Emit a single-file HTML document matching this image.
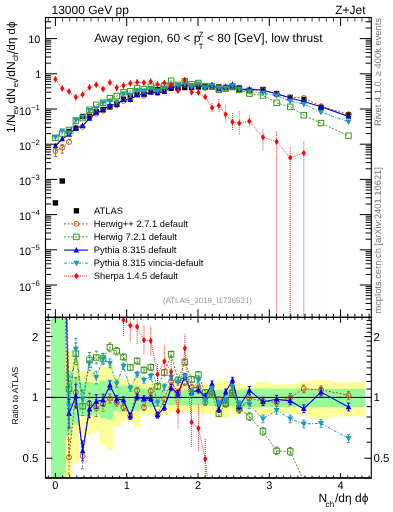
<!DOCTYPE html>
<html><head><meta charset="utf-8"><style>
html,body{margin:0;padding:0;background:#fff;width:393px;height:512px;overflow:hidden}
svg{display:block;will-change:transform}
text{font-family:"Liberation Sans",sans-serif;text-rendering:geometricPrecision}
</style></head><body>
<svg width="393" height="512" viewBox="0 0 393 512" shape-rendering="auto">
<defs><clipPath id="cu"><rect x="45.5" y="17.5" width="325.8" height="299.8"/></clipPath><clipPath id="cl"><rect x="45.5" y="317.3" width="325.8" height="160.3"/></clipPath></defs>
<g clip-path="url(#cl)">
<path d="M51.00,315.30 L58.80,315.30 L58.80,315.30 L65.61,315.30 L65.61,350.18 L72.42,350.18 L72.42,355.08 L79.23,355.08 L79.23,371.14 L86.04,371.14 L86.04,371.07 L92.85,371.07 L92.85,372.38 L99.66,372.38 L99.66,366.82 L106.47,366.82 L106.47,364.80 L113.28,364.80 L113.28,375.33 L120.09,375.33 L120.09,378.32 L126.91,378.32 L126.91,378.32 L133.72,378.32 L133.72,375.47 L140.53,375.47 L140.53,383.85 L147.33,383.85 L147.33,382.51 L154.14,382.51 L154.14,382.51 L160.95,382.51 L160.95,382.73 L167.76,382.73 L167.76,384.46 L174.57,384.46 L174.57,384.46 L181.38,384.46 L181.38,385.06 L188.19,385.06 L188.19,385.06 L195.00,385.06 L195.00,385.06 L201.81,385.06 L201.81,383.33 L208.62,383.33 L208.62,383.33 L215.44,383.33 L215.44,381.04 L222.25,381.04 L222.25,381.04 L229.06,381.04 L229.06,383.40 L235.86,383.40 L235.86,383.40 L242.60,383.40 L242.60,386.52 L256.20,386.52 L256.20,381.77 L269.80,381.77 L269.80,384.23 L283.40,384.23 L283.40,384.23 L297.00,384.23 L297.00,381.77 L310.60,381.77 L310.60,380.32 L331.70,380.32 L331.70,381.77 L365.30,381.77 L365.30,416.43 L331.70,416.43 L331.70,418.64 L310.60,418.64 L310.60,416.43 L297.00,416.43 L297.00,412.90 L283.40,412.90 L283.40,412.90 L269.80,412.90 L269.80,416.43 L256.20,416.43 L256.20,409.82 L242.60,409.82 L242.60,414.06 L235.86,414.06 L235.86,414.06 L229.06,414.06 L229.06,417.53 L222.25,417.53 L222.25,417.53 L215.44,417.53 L215.44,414.17 L208.62,414.17 L208.62,414.17 L201.81,414.17 L201.81,411.76 L195.00,411.76 L195.00,411.76 L188.19,411.76 L188.19,411.76 L181.38,411.76 L181.38,412.59 L174.57,412.59 L174.57,412.59 L167.76,412.59 L167.76,415.02 L160.95,415.02 L160.95,415.35 L154.14,415.35 L154.14,415.35 L147.33,415.35 L147.33,413.43 L140.53,413.43 L140.53,426.71 L133.72,426.71 L133.72,421.82 L126.91,421.82 L126.91,421.82 L120.09,421.82 L120.09,426.95 L113.28,426.95 L113.28,449.85 L106.47,449.85 L106.47,444.73 L99.66,444.73 L99.66,432.53 L92.85,432.53 L92.85,435.19 L86.04,435.19 L86.04,435.06 L79.23,435.06 L79.23,463.08 L72.42,463.08 L72.42,506.91 L65.61,506.91 L65.61,479.60 L58.80,479.60 L58.80,479.60 L51.00,479.60Z" fill="#ffff99"/>
<path d="M51.00,315.30 L58.80,315.30 L58.80,315.30 L65.61,315.30 L65.61,370.94 L72.42,370.94 L72.42,376.50 L79.23,376.50 L79.23,382.14 L86.04,382.14 L86.04,382.14 L92.85,382.14 L92.85,383.33 L99.66,383.33 L99.66,380.60 L106.47,380.60 L106.47,379.60 L113.28,379.60 L113.28,385.44 L120.09,385.44 L120.09,385.44 L126.91,385.44 L126.91,385.44 L133.72,385.44 L133.72,385.44 L140.53,385.44 L140.53,388.24 L147.33,388.24 L147.33,388.72 L154.14,388.72 L154.14,388.72 L160.95,388.72 L160.95,389.92 L167.76,389.92 L167.76,390.24 L174.57,390.24 L174.57,390.24 L181.38,390.24 L181.38,390.24 L188.19,390.24 L188.19,390.24 L195.00,390.24 L195.00,390.24 L201.81,390.24 L201.81,390.24 L208.62,390.24 L208.62,389.84 L215.44,389.84 L215.44,389.84 L222.25,389.84 L222.25,389.84 L229.06,389.84 L229.06,389.84 L235.86,389.84 L235.86,389.84 L242.60,389.84 L242.60,388.64 L256.20,388.64 L256.20,388.64 L269.80,388.64 L269.80,388.64 L283.40,388.64 L283.40,388.64 L297.00,388.64 L297.00,388.64 L310.60,388.64 L310.60,388.64 L331.70,388.64 L331.70,388.64 L365.30,388.64 L365.30,407.13 L331.70,407.13 L331.70,407.13 L310.60,407.13 L310.60,407.13 L297.00,407.13 L297.00,407.13 L283.40,407.13 L283.40,407.13 L269.80,407.13 L269.80,407.13 L256.20,407.13 L256.20,407.13 L242.60,407.13 L242.60,405.67 L235.86,405.67 L235.86,405.67 L229.06,405.67 L229.06,405.67 L222.25,405.67 L222.25,405.67 L215.44,405.67 L215.44,405.67 L208.62,405.67 L208.62,405.19 L201.81,405.19 L201.81,405.19 L195.00,405.19 L195.00,405.19 L188.19,405.19 L188.19,405.19 L181.38,405.19 L181.38,405.19 L174.57,405.19 L174.57,405.19 L167.76,405.19 L167.76,405.58 L160.95,405.58 L160.95,407.03 L154.14,407.03 L154.14,407.03 L147.33,407.03 L147.33,407.62 L140.53,407.62 L140.53,411.25 L133.72,411.25 L133.72,411.25 L126.91,411.25 L126.91,411.25 L120.09,411.25 L120.09,411.25 L113.28,411.25 L113.28,419.76 L106.47,419.76 L106.47,418.19 L99.66,418.19 L99.66,414.17 L92.85,414.17 L92.85,415.89 L86.04,415.89 L86.04,415.89 L79.23,415.89 L79.23,424.89 L72.42,424.89 L72.42,435.46 L65.61,435.46 L65.61,479.60 L58.80,479.60 L58.80,479.60 L51.00,479.60Z" fill="#98fb98"/>
<line x1="45.5" y1="397.4" x2="371.3" y2="397.4" stroke="#000" stroke-width="1"/>
<line x1="62.21" y1="206.30" x2="69.02" y2="457.20" stroke="#b05a10" stroke-width="1" stroke-dasharray="2,1.6"/>
<line x1="62.21" y1="124.81" x2="69.02" y2="389.00" stroke="#3e9a1c" stroke-width="1" stroke-dasharray="2,1.6"/>
<line x1="62.21" y1="156.38" x2="69.02" y2="413.80" stroke="#0000f0" stroke-width="1.1"/>
<line x1="62.21" y1="109.32" x2="69.02" y2="405.80" stroke="#1a9abf" stroke-width="1" stroke-dasharray="3,1.5,1,1.5"/>
<line x1="116.69" y1="300" x2="123.50" y2="320.10" stroke="#ff0000" stroke-width="0.8" stroke-dasharray="1,1"/>
<line x1="205.22" y1="459.00" x2="212.03" y2="520" stroke="#ff0000" stroke-width="0.8" stroke-dasharray="1,1"/>
<line x1="290.20" y1="451.40" x2="303.80" y2="481" stroke="#3e9a1c" stroke-width="1" stroke-dasharray="2,1.6"/>
<polyline points="69.02,457.20 75.83,392.40 82.64,456.10 89.45,403.50 96.26,408.00 103.07,404.00 109.88,398.50 116.69,402.50 123.50,407.50 130.31,415.30 137.12,390.70 143.93,407.50 150.74,391.20 157.55,415.00 164.36,399.30 171.17,381.50 177.98,392.30 184.79,382.70 191.60,387.20 198.41,387.80 205.22,402.40 212.03,392.30 218.84,399.50 225.65,404.00 232.46,391.00 239.27,410.20 249.40,398.30 263.00,401.00 276.60,402.50 290.20,397.50 303.80,388.90 321.00,389.80 348.50,395.30" fill="none" stroke="#b05a10" stroke-width="1" stroke-dasharray="2,1.6"/>
<line x1="69.02" y1="439.65" x2="69.02" y2="474.75" stroke="#b05a10" stroke-width="0.9" stroke-dasharray="2,1.6"/>
<line x1="67.42" y1="439.65" x2="70.62" y2="439.65" stroke="#b05a10" stroke-width="0.9"/>
<line x1="67.42" y1="474.75" x2="70.62" y2="474.75" stroke="#b05a10" stroke-width="0.9"/>
<circle cx="69.02" cy="457.20" r="2.50" fill="none" stroke="#b05a10" stroke-width="1.0"/>
<line x1="75.83" y1="377.74" x2="75.83" y2="407.06" stroke="#b05a10" stroke-width="0.9" stroke-dasharray="2,1.6"/>
<line x1="74.23" y1="377.74" x2="77.43" y2="377.74" stroke="#b05a10" stroke-width="0.9"/>
<line x1="74.23" y1="407.06" x2="77.43" y2="407.06" stroke="#b05a10" stroke-width="0.9"/>
<circle cx="75.83" cy="392.40" r="2.50" fill="none" stroke="#b05a10" stroke-width="1.0"/>
<line x1="82.64" y1="443.86" x2="82.64" y2="468.34" stroke="#b05a10" stroke-width="0.9" stroke-dasharray="2,1.6"/>
<line x1="81.04" y1="443.86" x2="84.24" y2="443.86" stroke="#b05a10" stroke-width="0.9"/>
<line x1="81.04" y1="468.34" x2="84.24" y2="468.34" stroke="#b05a10" stroke-width="0.9"/>
<circle cx="82.64" cy="456.10" r="2.50" fill="none" stroke="#b05a10" stroke-width="1.0"/>
<line x1="89.45" y1="393.27" x2="89.45" y2="413.73" stroke="#b05a10" stroke-width="0.9" stroke-dasharray="2,1.6"/>
<line x1="87.85" y1="393.27" x2="91.05" y2="393.27" stroke="#b05a10" stroke-width="0.9"/>
<line x1="87.85" y1="413.73" x2="91.05" y2="413.73" stroke="#b05a10" stroke-width="0.9"/>
<circle cx="89.45" cy="403.50" r="2.50" fill="none" stroke="#b05a10" stroke-width="1.0"/>
<line x1="96.26" y1="399.46" x2="96.26" y2="416.54" stroke="#b05a10" stroke-width="0.9" stroke-dasharray="2,1.6"/>
<line x1="94.66" y1="399.46" x2="97.86" y2="399.46" stroke="#b05a10" stroke-width="0.9"/>
<line x1="94.66" y1="416.54" x2="97.86" y2="416.54" stroke="#b05a10" stroke-width="0.9"/>
<circle cx="96.26" cy="408.00" r="2.50" fill="none" stroke="#b05a10" stroke-width="1.0"/>
<line x1="103.07" y1="396.86" x2="103.07" y2="411.14" stroke="#b05a10" stroke-width="0.9" stroke-dasharray="2,1.6"/>
<line x1="101.47" y1="396.86" x2="104.67" y2="396.86" stroke="#b05a10" stroke-width="0.9"/>
<line x1="101.47" y1="411.14" x2="104.67" y2="411.14" stroke="#b05a10" stroke-width="0.9"/>
<circle cx="103.07" cy="404.00" r="2.50" fill="none" stroke="#b05a10" stroke-width="1.0"/>
<line x1="109.88" y1="394.09" x2="109.88" y2="402.91" stroke="#b05a10" stroke-width="0.9" stroke-dasharray="2,1.6"/>
<line x1="108.28" y1="394.09" x2="111.48" y2="394.09" stroke="#b05a10" stroke-width="0.9"/>
<line x1="108.28" y1="402.91" x2="111.48" y2="402.91" stroke="#b05a10" stroke-width="0.9"/>
<circle cx="109.88" cy="398.50" r="2.50" fill="none" stroke="#b05a10" stroke-width="1.0"/>
<line x1="116.69" y1="398.81" x2="116.69" y2="406.19" stroke="#b05a10" stroke-width="0.9" stroke-dasharray="2,1.6"/>
<line x1="115.09" y1="398.81" x2="118.29" y2="398.81" stroke="#b05a10" stroke-width="0.9"/>
<line x1="115.09" y1="406.19" x2="118.29" y2="406.19" stroke="#b05a10" stroke-width="0.9"/>
<circle cx="116.69" cy="402.50" r="2.50" fill="none" stroke="#b05a10" stroke-width="1.0"/>
<line x1="123.50" y1="404.42" x2="123.50" y2="410.58" stroke="#b05a10" stroke-width="0.9" stroke-dasharray="2,1.6"/>
<line x1="121.90" y1="404.42" x2="125.10" y2="404.42" stroke="#b05a10" stroke-width="0.9"/>
<line x1="121.90" y1="410.58" x2="125.10" y2="410.58" stroke="#b05a10" stroke-width="0.9"/>
<circle cx="123.50" cy="407.50" r="2.50" fill="none" stroke="#b05a10" stroke-width="1.0"/>
<line x1="130.31" y1="412.30" x2="130.31" y2="418.30" stroke="#b05a10" stroke-width="0.9" stroke-dasharray="2,1.6"/>
<line x1="128.71" y1="412.30" x2="131.91" y2="412.30" stroke="#b05a10" stroke-width="0.9"/>
<line x1="128.71" y1="418.30" x2="131.91" y2="418.30" stroke="#b05a10" stroke-width="0.9"/>
<circle cx="130.31" cy="415.30" r="2.50" fill="none" stroke="#b05a10" stroke-width="1.0"/>
<line x1="137.12" y1="387.70" x2="137.12" y2="393.70" stroke="#b05a10" stroke-width="0.9" stroke-dasharray="2,1.6"/>
<line x1="135.52" y1="387.70" x2="138.72" y2="387.70" stroke="#b05a10" stroke-width="0.9"/>
<line x1="135.52" y1="393.70" x2="138.72" y2="393.70" stroke="#b05a10" stroke-width="0.9"/>
<circle cx="137.12" cy="390.70" r="2.50" fill="none" stroke="#b05a10" stroke-width="1.0"/>
<line x1="143.93" y1="404.50" x2="143.93" y2="410.50" stroke="#b05a10" stroke-width="0.9" stroke-dasharray="2,1.6"/>
<line x1="142.33" y1="404.50" x2="145.53" y2="404.50" stroke="#b05a10" stroke-width="0.9"/>
<line x1="142.33" y1="410.50" x2="145.53" y2="410.50" stroke="#b05a10" stroke-width="0.9"/>
<circle cx="143.93" cy="407.50" r="2.50" fill="none" stroke="#b05a10" stroke-width="1.0"/>
<line x1="150.74" y1="388.20" x2="150.74" y2="394.20" stroke="#b05a10" stroke-width="0.9" stroke-dasharray="2,1.6"/>
<line x1="149.14" y1="388.20" x2="152.34" y2="388.20" stroke="#b05a10" stroke-width="0.9"/>
<line x1="149.14" y1="394.20" x2="152.34" y2="394.20" stroke="#b05a10" stroke-width="0.9"/>
<circle cx="150.74" cy="391.20" r="2.50" fill="none" stroke="#b05a10" stroke-width="1.0"/>
<line x1="157.55" y1="412.00" x2="157.55" y2="418.00" stroke="#b05a10" stroke-width="0.9" stroke-dasharray="2,1.6"/>
<line x1="155.95" y1="412.00" x2="159.15" y2="412.00" stroke="#b05a10" stroke-width="0.9"/>
<line x1="155.95" y1="418.00" x2="159.15" y2="418.00" stroke="#b05a10" stroke-width="0.9"/>
<circle cx="157.55" cy="415.00" r="2.50" fill="none" stroke="#b05a10" stroke-width="1.0"/>
<line x1="164.36" y1="396.30" x2="164.36" y2="402.30" stroke="#b05a10" stroke-width="0.9" stroke-dasharray="2,1.6"/>
<line x1="162.76" y1="396.30" x2="165.96" y2="396.30" stroke="#b05a10" stroke-width="0.9"/>
<line x1="162.76" y1="402.30" x2="165.96" y2="402.30" stroke="#b05a10" stroke-width="0.9"/>
<circle cx="164.36" cy="399.30" r="2.50" fill="none" stroke="#b05a10" stroke-width="1.0"/>
<line x1="171.17" y1="378.50" x2="171.17" y2="384.50" stroke="#b05a10" stroke-width="0.9" stroke-dasharray="2,1.6"/>
<line x1="169.57" y1="378.50" x2="172.77" y2="378.50" stroke="#b05a10" stroke-width="0.9"/>
<line x1="169.57" y1="384.50" x2="172.77" y2="384.50" stroke="#b05a10" stroke-width="0.9"/>
<circle cx="171.17" cy="381.50" r="2.50" fill="none" stroke="#b05a10" stroke-width="1.0"/>
<line x1="177.98" y1="389.30" x2="177.98" y2="395.30" stroke="#b05a10" stroke-width="0.9" stroke-dasharray="2,1.6"/>
<line x1="176.38" y1="389.30" x2="179.58" y2="389.30" stroke="#b05a10" stroke-width="0.9"/>
<line x1="176.38" y1="395.30" x2="179.58" y2="395.30" stroke="#b05a10" stroke-width="0.9"/>
<circle cx="177.98" cy="392.30" r="2.50" fill="none" stroke="#b05a10" stroke-width="1.0"/>
<line x1="184.79" y1="379.70" x2="184.79" y2="385.70" stroke="#b05a10" stroke-width="0.9" stroke-dasharray="2,1.6"/>
<line x1="183.19" y1="379.70" x2="186.39" y2="379.70" stroke="#b05a10" stroke-width="0.9"/>
<line x1="183.19" y1="385.70" x2="186.39" y2="385.70" stroke="#b05a10" stroke-width="0.9"/>
<circle cx="184.79" cy="382.70" r="2.50" fill="none" stroke="#b05a10" stroke-width="1.0"/>
<line x1="191.60" y1="384.20" x2="191.60" y2="390.20" stroke="#b05a10" stroke-width="0.9" stroke-dasharray="2,1.6"/>
<line x1="190.00" y1="384.20" x2="193.20" y2="384.20" stroke="#b05a10" stroke-width="0.9"/>
<line x1="190.00" y1="390.20" x2="193.20" y2="390.20" stroke="#b05a10" stroke-width="0.9"/>
<circle cx="191.60" cy="387.20" r="2.50" fill="none" stroke="#b05a10" stroke-width="1.0"/>
<line x1="198.41" y1="384.80" x2="198.41" y2="390.80" stroke="#b05a10" stroke-width="0.9" stroke-dasharray="2,1.6"/>
<line x1="196.81" y1="384.80" x2="200.01" y2="384.80" stroke="#b05a10" stroke-width="0.9"/>
<line x1="196.81" y1="390.80" x2="200.01" y2="390.80" stroke="#b05a10" stroke-width="0.9"/>
<circle cx="198.41" cy="387.80" r="2.50" fill="none" stroke="#b05a10" stroke-width="1.0"/>
<line x1="205.22" y1="399.40" x2="205.22" y2="405.40" stroke="#b05a10" stroke-width="0.9" stroke-dasharray="2,1.6"/>
<line x1="203.62" y1="399.40" x2="206.82" y2="399.40" stroke="#b05a10" stroke-width="0.9"/>
<line x1="203.62" y1="405.40" x2="206.82" y2="405.40" stroke="#b05a10" stroke-width="0.9"/>
<circle cx="205.22" cy="402.40" r="2.50" fill="none" stroke="#b05a10" stroke-width="1.0"/>
<line x1="212.03" y1="389.30" x2="212.03" y2="395.30" stroke="#b05a10" stroke-width="0.9" stroke-dasharray="2,1.6"/>
<line x1="210.43" y1="389.30" x2="213.63" y2="389.30" stroke="#b05a10" stroke-width="0.9"/>
<line x1="210.43" y1="395.30" x2="213.63" y2="395.30" stroke="#b05a10" stroke-width="0.9"/>
<circle cx="212.03" cy="392.30" r="2.50" fill="none" stroke="#b05a10" stroke-width="1.0"/>
<line x1="218.84" y1="396.50" x2="218.84" y2="402.50" stroke="#b05a10" stroke-width="0.9" stroke-dasharray="2,1.6"/>
<line x1="217.24" y1="396.50" x2="220.44" y2="396.50" stroke="#b05a10" stroke-width="0.9"/>
<line x1="217.24" y1="402.50" x2="220.44" y2="402.50" stroke="#b05a10" stroke-width="0.9"/>
<circle cx="218.84" cy="399.50" r="2.50" fill="none" stroke="#b05a10" stroke-width="1.0"/>
<line x1="225.65" y1="401.00" x2="225.65" y2="407.00" stroke="#b05a10" stroke-width="0.9" stroke-dasharray="2,1.6"/>
<line x1="224.05" y1="401.00" x2="227.25" y2="401.00" stroke="#b05a10" stroke-width="0.9"/>
<line x1="224.05" y1="407.00" x2="227.25" y2="407.00" stroke="#b05a10" stroke-width="0.9"/>
<circle cx="225.65" cy="404.00" r="2.50" fill="none" stroke="#b05a10" stroke-width="1.0"/>
<line x1="232.46" y1="388.00" x2="232.46" y2="394.00" stroke="#b05a10" stroke-width="0.9" stroke-dasharray="2,1.6"/>
<line x1="230.86" y1="388.00" x2="234.06" y2="388.00" stroke="#b05a10" stroke-width="0.9"/>
<line x1="230.86" y1="394.00" x2="234.06" y2="394.00" stroke="#b05a10" stroke-width="0.9"/>
<circle cx="232.46" cy="391.00" r="2.50" fill="none" stroke="#b05a10" stroke-width="1.0"/>
<line x1="239.27" y1="407.20" x2="239.27" y2="413.20" stroke="#b05a10" stroke-width="0.9" stroke-dasharray="2,1.6"/>
<line x1="237.67" y1="407.20" x2="240.87" y2="407.20" stroke="#b05a10" stroke-width="0.9"/>
<line x1="237.67" y1="413.20" x2="240.87" y2="413.20" stroke="#b05a10" stroke-width="0.9"/>
<circle cx="239.27" cy="410.20" r="2.50" fill="none" stroke="#b05a10" stroke-width="1.0"/>
<line x1="249.40" y1="394.40" x2="249.40" y2="402.20" stroke="#b05a10" stroke-width="0.9" stroke-dasharray="2,1.6"/>
<line x1="247.80" y1="394.40" x2="251.00" y2="394.40" stroke="#b05a10" stroke-width="0.9"/>
<line x1="247.80" y1="402.20" x2="251.00" y2="402.20" stroke="#b05a10" stroke-width="0.9"/>
<circle cx="249.40" cy="398.30" r="2.50" fill="none" stroke="#b05a10" stroke-width="1.0"/>
<line x1="263.00" y1="397.10" x2="263.00" y2="404.90" stroke="#b05a10" stroke-width="0.9" stroke-dasharray="2,1.6"/>
<line x1="261.40" y1="397.10" x2="264.60" y2="397.10" stroke="#b05a10" stroke-width="0.9"/>
<line x1="261.40" y1="404.90" x2="264.60" y2="404.90" stroke="#b05a10" stroke-width="0.9"/>
<circle cx="263.00" cy="401.00" r="2.50" fill="none" stroke="#b05a10" stroke-width="1.0"/>
<line x1="276.60" y1="398.60" x2="276.60" y2="406.40" stroke="#b05a10" stroke-width="0.9" stroke-dasharray="2,1.6"/>
<line x1="275.00" y1="398.60" x2="278.20" y2="398.60" stroke="#b05a10" stroke-width="0.9"/>
<line x1="275.00" y1="406.40" x2="278.20" y2="406.40" stroke="#b05a10" stroke-width="0.9"/>
<circle cx="276.60" cy="402.50" r="2.50" fill="none" stroke="#b05a10" stroke-width="1.0"/>
<line x1="290.20" y1="393.60" x2="290.20" y2="401.40" stroke="#b05a10" stroke-width="0.9" stroke-dasharray="2,1.6"/>
<line x1="288.60" y1="393.60" x2="291.80" y2="393.60" stroke="#b05a10" stroke-width="0.9"/>
<line x1="288.60" y1="401.40" x2="291.80" y2="401.40" stroke="#b05a10" stroke-width="0.9"/>
<circle cx="290.20" cy="397.50" r="2.50" fill="none" stroke="#b05a10" stroke-width="1.0"/>
<line x1="303.80" y1="385.00" x2="303.80" y2="392.80" stroke="#b05a10" stroke-width="0.9" stroke-dasharray="2,1.6"/>
<line x1="302.20" y1="385.00" x2="305.40" y2="385.00" stroke="#b05a10" stroke-width="0.9"/>
<line x1="302.20" y1="392.80" x2="305.40" y2="392.80" stroke="#b05a10" stroke-width="0.9"/>
<circle cx="303.80" cy="388.90" r="2.50" fill="none" stroke="#b05a10" stroke-width="1.0"/>
<line x1="321.00" y1="385.90" x2="321.00" y2="393.70" stroke="#b05a10" stroke-width="0.9" stroke-dasharray="2,1.6"/>
<line x1="319.40" y1="385.90" x2="322.60" y2="385.90" stroke="#b05a10" stroke-width="0.9"/>
<line x1="319.40" y1="393.70" x2="322.60" y2="393.70" stroke="#b05a10" stroke-width="0.9"/>
<circle cx="321.00" cy="389.80" r="2.50" fill="none" stroke="#b05a10" stroke-width="1.0"/>
<line x1="348.50" y1="391.40" x2="348.50" y2="399.20" stroke="#b05a10" stroke-width="0.9" stroke-dasharray="2,1.6"/>
<line x1="346.90" y1="391.40" x2="350.10" y2="391.40" stroke="#b05a10" stroke-width="0.9"/>
<line x1="346.90" y1="399.20" x2="350.10" y2="399.20" stroke="#b05a10" stroke-width="0.9"/>
<circle cx="348.50" cy="395.30" r="2.50" fill="none" stroke="#b05a10" stroke-width="1.0"/>
<polyline points="69.02,389.00 75.83,353.70 82.64,406.30 89.45,360.00 96.26,357.50 103.07,358.50 109.88,347.30 116.69,351.20 123.50,357.00 130.31,367.50 137.12,361.00 143.93,370.10 150.74,367.20 157.55,386.30 164.36,372.50 171.17,354.20 177.98,380.00 184.79,362.00 191.60,379.30 198.41,374.60 205.22,392.50 212.03,394.50 218.84,413.60 225.65,403.80 232.46,393.00 239.27,408.00 249.40,416.50 263.00,431.40 276.60,450.90 290.20,451.40" fill="none" stroke="#3e9a1c" stroke-width="1" stroke-dasharray="2,1.6"/>
<line x1="69.02" y1="376.00" x2="69.02" y2="402.00" stroke="#3e9a1c" stroke-width="0.9" stroke-dasharray="2,1.6"/>
<line x1="67.42" y1="376.00" x2="70.62" y2="376.00" stroke="#3e9a1c" stroke-width="0.9"/>
<line x1="67.42" y1="402.00" x2="70.62" y2="402.00" stroke="#3e9a1c" stroke-width="0.9"/>
<rect x="66.27" y="386.25" width="5.50" height="5.50" fill="none" stroke="#3e9a1c" stroke-width="1.0"/>
<line x1="75.83" y1="342.84" x2="75.83" y2="364.56" stroke="#3e9a1c" stroke-width="0.9" stroke-dasharray="2,1.6"/>
<line x1="74.23" y1="342.84" x2="77.43" y2="342.84" stroke="#3e9a1c" stroke-width="0.9"/>
<line x1="74.23" y1="364.56" x2="77.43" y2="364.56" stroke="#3e9a1c" stroke-width="0.9"/>
<rect x="73.08" y="350.95" width="5.50" height="5.50" fill="none" stroke="#3e9a1c" stroke-width="1.0"/>
<line x1="82.64" y1="397.23" x2="82.64" y2="415.37" stroke="#3e9a1c" stroke-width="0.9" stroke-dasharray="2,1.6"/>
<line x1="81.04" y1="397.23" x2="84.24" y2="397.23" stroke="#3e9a1c" stroke-width="0.9"/>
<line x1="81.04" y1="415.37" x2="84.24" y2="415.37" stroke="#3e9a1c" stroke-width="0.9"/>
<rect x="79.89" y="403.55" width="5.50" height="5.50" fill="none" stroke="#3e9a1c" stroke-width="1.0"/>
<line x1="89.45" y1="352.42" x2="89.45" y2="367.58" stroke="#3e9a1c" stroke-width="0.9" stroke-dasharray="2,1.6"/>
<line x1="87.85" y1="352.42" x2="91.05" y2="352.42" stroke="#3e9a1c" stroke-width="0.9"/>
<line x1="87.85" y1="367.58" x2="91.05" y2="367.58" stroke="#3e9a1c" stroke-width="0.9"/>
<rect x="86.70" y="357.25" width="5.50" height="5.50" fill="none" stroke="#3e9a1c" stroke-width="1.0"/>
<line x1="96.26" y1="351.17" x2="96.26" y2="363.83" stroke="#3e9a1c" stroke-width="0.9" stroke-dasharray="2,1.6"/>
<line x1="94.66" y1="351.17" x2="97.86" y2="351.17" stroke="#3e9a1c" stroke-width="0.9"/>
<line x1="94.66" y1="363.83" x2="97.86" y2="363.83" stroke="#3e9a1c" stroke-width="0.9"/>
<rect x="93.51" y="354.75" width="5.50" height="5.50" fill="none" stroke="#3e9a1c" stroke-width="1.0"/>
<line x1="103.07" y1="353.21" x2="103.07" y2="363.79" stroke="#3e9a1c" stroke-width="0.9" stroke-dasharray="2,1.6"/>
<line x1="101.47" y1="353.21" x2="104.67" y2="353.21" stroke="#3e9a1c" stroke-width="0.9"/>
<line x1="101.47" y1="363.79" x2="104.67" y2="363.79" stroke="#3e9a1c" stroke-width="0.9"/>
<rect x="100.32" y="355.75" width="5.50" height="5.50" fill="none" stroke="#3e9a1c" stroke-width="1.0"/>
<line x1="109.88" y1="342.89" x2="109.88" y2="351.71" stroke="#3e9a1c" stroke-width="0.9" stroke-dasharray="2,1.6"/>
<line x1="108.28" y1="342.89" x2="111.48" y2="342.89" stroke="#3e9a1c" stroke-width="0.9"/>
<line x1="108.28" y1="351.71" x2="111.48" y2="351.71" stroke="#3e9a1c" stroke-width="0.9"/>
<rect x="107.13" y="344.55" width="5.50" height="5.50" fill="none" stroke="#3e9a1c" stroke-width="1.0"/>
<line x1="116.69" y1="347.51" x2="116.69" y2="354.89" stroke="#3e9a1c" stroke-width="0.9" stroke-dasharray="2,1.6"/>
<line x1="115.09" y1="347.51" x2="118.29" y2="347.51" stroke="#3e9a1c" stroke-width="0.9"/>
<line x1="115.09" y1="354.89" x2="118.29" y2="354.89" stroke="#3e9a1c" stroke-width="0.9"/>
<rect x="113.94" y="348.45" width="5.50" height="5.50" fill="none" stroke="#3e9a1c" stroke-width="1.0"/>
<line x1="123.50" y1="353.92" x2="123.50" y2="360.08" stroke="#3e9a1c" stroke-width="0.9" stroke-dasharray="2,1.6"/>
<line x1="121.90" y1="353.92" x2="125.10" y2="353.92" stroke="#3e9a1c" stroke-width="0.9"/>
<line x1="121.90" y1="360.08" x2="125.10" y2="360.08" stroke="#3e9a1c" stroke-width="0.9"/>
<rect x="120.75" y="354.25" width="5.50" height="5.50" fill="none" stroke="#3e9a1c" stroke-width="1.0"/>
<line x1="130.31" y1="364.50" x2="130.31" y2="370.50" stroke="#3e9a1c" stroke-width="0.9" stroke-dasharray="2,1.6"/>
<line x1="128.71" y1="364.50" x2="131.91" y2="364.50" stroke="#3e9a1c" stroke-width="0.9"/>
<line x1="128.71" y1="370.50" x2="131.91" y2="370.50" stroke="#3e9a1c" stroke-width="0.9"/>
<rect x="127.56" y="364.75" width="5.50" height="5.50" fill="none" stroke="#3e9a1c" stroke-width="1.0"/>
<line x1="137.12" y1="358.00" x2="137.12" y2="364.00" stroke="#3e9a1c" stroke-width="0.9" stroke-dasharray="2,1.6"/>
<line x1="135.52" y1="358.00" x2="138.72" y2="358.00" stroke="#3e9a1c" stroke-width="0.9"/>
<line x1="135.52" y1="364.00" x2="138.72" y2="364.00" stroke="#3e9a1c" stroke-width="0.9"/>
<rect x="134.37" y="358.25" width="5.50" height="5.50" fill="none" stroke="#3e9a1c" stroke-width="1.0"/>
<line x1="143.93" y1="367.10" x2="143.93" y2="373.10" stroke="#3e9a1c" stroke-width="0.9" stroke-dasharray="2,1.6"/>
<line x1="142.33" y1="367.10" x2="145.53" y2="367.10" stroke="#3e9a1c" stroke-width="0.9"/>
<line x1="142.33" y1="373.10" x2="145.53" y2="373.10" stroke="#3e9a1c" stroke-width="0.9"/>
<rect x="141.18" y="367.35" width="5.50" height="5.50" fill="none" stroke="#3e9a1c" stroke-width="1.0"/>
<line x1="150.74" y1="364.20" x2="150.74" y2="370.20" stroke="#3e9a1c" stroke-width="0.9" stroke-dasharray="2,1.6"/>
<line x1="149.14" y1="364.20" x2="152.34" y2="364.20" stroke="#3e9a1c" stroke-width="0.9"/>
<line x1="149.14" y1="370.20" x2="152.34" y2="370.20" stroke="#3e9a1c" stroke-width="0.9"/>
<rect x="147.99" y="364.45" width="5.50" height="5.50" fill="none" stroke="#3e9a1c" stroke-width="1.0"/>
<line x1="157.55" y1="383.30" x2="157.55" y2="389.30" stroke="#3e9a1c" stroke-width="0.9" stroke-dasharray="2,1.6"/>
<line x1="155.95" y1="383.30" x2="159.15" y2="383.30" stroke="#3e9a1c" stroke-width="0.9"/>
<line x1="155.95" y1="389.30" x2="159.15" y2="389.30" stroke="#3e9a1c" stroke-width="0.9"/>
<rect x="154.80" y="383.55" width="5.50" height="5.50" fill="none" stroke="#3e9a1c" stroke-width="1.0"/>
<line x1="164.36" y1="369.50" x2="164.36" y2="375.50" stroke="#3e9a1c" stroke-width="0.9" stroke-dasharray="2,1.6"/>
<line x1="162.76" y1="369.50" x2="165.96" y2="369.50" stroke="#3e9a1c" stroke-width="0.9"/>
<line x1="162.76" y1="375.50" x2="165.96" y2="375.50" stroke="#3e9a1c" stroke-width="0.9"/>
<rect x="161.61" y="369.75" width="5.50" height="5.50" fill="none" stroke="#3e9a1c" stroke-width="1.0"/>
<line x1="171.17" y1="351.20" x2="171.17" y2="357.20" stroke="#3e9a1c" stroke-width="0.9" stroke-dasharray="2,1.6"/>
<line x1="169.57" y1="351.20" x2="172.77" y2="351.20" stroke="#3e9a1c" stroke-width="0.9"/>
<line x1="169.57" y1="357.20" x2="172.77" y2="357.20" stroke="#3e9a1c" stroke-width="0.9"/>
<rect x="168.42" y="351.45" width="5.50" height="5.50" fill="none" stroke="#3e9a1c" stroke-width="1.0"/>
<line x1="177.98" y1="377.00" x2="177.98" y2="383.00" stroke="#3e9a1c" stroke-width="0.9" stroke-dasharray="2,1.6"/>
<line x1="176.38" y1="377.00" x2="179.58" y2="377.00" stroke="#3e9a1c" stroke-width="0.9"/>
<line x1="176.38" y1="383.00" x2="179.58" y2="383.00" stroke="#3e9a1c" stroke-width="0.9"/>
<rect x="175.23" y="377.25" width="5.50" height="5.50" fill="none" stroke="#3e9a1c" stroke-width="1.0"/>
<line x1="184.79" y1="359.00" x2="184.79" y2="365.00" stroke="#3e9a1c" stroke-width="0.9" stroke-dasharray="2,1.6"/>
<line x1="183.19" y1="359.00" x2="186.39" y2="359.00" stroke="#3e9a1c" stroke-width="0.9"/>
<line x1="183.19" y1="365.00" x2="186.39" y2="365.00" stroke="#3e9a1c" stroke-width="0.9"/>
<rect x="182.04" y="359.25" width="5.50" height="5.50" fill="none" stroke="#3e9a1c" stroke-width="1.0"/>
<line x1="191.60" y1="376.30" x2="191.60" y2="382.30" stroke="#3e9a1c" stroke-width="0.9" stroke-dasharray="2,1.6"/>
<line x1="190.00" y1="376.30" x2="193.20" y2="376.30" stroke="#3e9a1c" stroke-width="0.9"/>
<line x1="190.00" y1="382.30" x2="193.20" y2="382.30" stroke="#3e9a1c" stroke-width="0.9"/>
<rect x="188.85" y="376.55" width="5.50" height="5.50" fill="none" stroke="#3e9a1c" stroke-width="1.0"/>
<line x1="198.41" y1="371.60" x2="198.41" y2="377.60" stroke="#3e9a1c" stroke-width="0.9" stroke-dasharray="2,1.6"/>
<line x1="196.81" y1="371.60" x2="200.01" y2="371.60" stroke="#3e9a1c" stroke-width="0.9"/>
<line x1="196.81" y1="377.60" x2="200.01" y2="377.60" stroke="#3e9a1c" stroke-width="0.9"/>
<rect x="195.66" y="371.85" width="5.50" height="5.50" fill="none" stroke="#3e9a1c" stroke-width="1.0"/>
<line x1="205.22" y1="389.50" x2="205.22" y2="395.50" stroke="#3e9a1c" stroke-width="0.9" stroke-dasharray="2,1.6"/>
<line x1="203.62" y1="389.50" x2="206.82" y2="389.50" stroke="#3e9a1c" stroke-width="0.9"/>
<line x1="203.62" y1="395.50" x2="206.82" y2="395.50" stroke="#3e9a1c" stroke-width="0.9"/>
<rect x="202.47" y="389.75" width="5.50" height="5.50" fill="none" stroke="#3e9a1c" stroke-width="1.0"/>
<line x1="212.03" y1="391.50" x2="212.03" y2="397.50" stroke="#3e9a1c" stroke-width="0.9" stroke-dasharray="2,1.6"/>
<line x1="210.43" y1="391.50" x2="213.63" y2="391.50" stroke="#3e9a1c" stroke-width="0.9"/>
<line x1="210.43" y1="397.50" x2="213.63" y2="397.50" stroke="#3e9a1c" stroke-width="0.9"/>
<rect x="209.28" y="391.75" width="5.50" height="5.50" fill="none" stroke="#3e9a1c" stroke-width="1.0"/>
<line x1="218.84" y1="410.60" x2="218.84" y2="416.60" stroke="#3e9a1c" stroke-width="0.9" stroke-dasharray="2,1.6"/>
<line x1="217.24" y1="410.60" x2="220.44" y2="410.60" stroke="#3e9a1c" stroke-width="0.9"/>
<line x1="217.24" y1="416.60" x2="220.44" y2="416.60" stroke="#3e9a1c" stroke-width="0.9"/>
<rect x="216.09" y="410.85" width="5.50" height="5.50" fill="none" stroke="#3e9a1c" stroke-width="1.0"/>
<line x1="225.65" y1="400.80" x2="225.65" y2="406.80" stroke="#3e9a1c" stroke-width="0.9" stroke-dasharray="2,1.6"/>
<line x1="224.05" y1="400.80" x2="227.25" y2="400.80" stroke="#3e9a1c" stroke-width="0.9"/>
<line x1="224.05" y1="406.80" x2="227.25" y2="406.80" stroke="#3e9a1c" stroke-width="0.9"/>
<rect x="222.90" y="401.05" width="5.50" height="5.50" fill="none" stroke="#3e9a1c" stroke-width="1.0"/>
<line x1="232.46" y1="390.00" x2="232.46" y2="396.00" stroke="#3e9a1c" stroke-width="0.9" stroke-dasharray="2,1.6"/>
<line x1="230.86" y1="390.00" x2="234.06" y2="390.00" stroke="#3e9a1c" stroke-width="0.9"/>
<line x1="230.86" y1="396.00" x2="234.06" y2="396.00" stroke="#3e9a1c" stroke-width="0.9"/>
<rect x="229.71" y="390.25" width="5.50" height="5.50" fill="none" stroke="#3e9a1c" stroke-width="1.0"/>
<line x1="239.27" y1="405.00" x2="239.27" y2="411.00" stroke="#3e9a1c" stroke-width="0.9" stroke-dasharray="2,1.6"/>
<line x1="237.67" y1="405.00" x2="240.87" y2="405.00" stroke="#3e9a1c" stroke-width="0.9"/>
<line x1="237.67" y1="411.00" x2="240.87" y2="411.00" stroke="#3e9a1c" stroke-width="0.9"/>
<rect x="236.52" y="405.25" width="5.50" height="5.50" fill="none" stroke="#3e9a1c" stroke-width="1.0"/>
<line x1="249.40" y1="412.60" x2="249.40" y2="420.40" stroke="#3e9a1c" stroke-width="0.9" stroke-dasharray="2,1.6"/>
<line x1="247.80" y1="412.60" x2="251.00" y2="412.60" stroke="#3e9a1c" stroke-width="0.9"/>
<line x1="247.80" y1="420.40" x2="251.00" y2="420.40" stroke="#3e9a1c" stroke-width="0.9"/>
<rect x="246.65" y="413.75" width="5.50" height="5.50" fill="none" stroke="#3e9a1c" stroke-width="1.0"/>
<line x1="263.00" y1="427.50" x2="263.00" y2="435.30" stroke="#3e9a1c" stroke-width="0.9" stroke-dasharray="2,1.6"/>
<line x1="261.40" y1="427.50" x2="264.60" y2="427.50" stroke="#3e9a1c" stroke-width="0.9"/>
<line x1="261.40" y1="435.30" x2="264.60" y2="435.30" stroke="#3e9a1c" stroke-width="0.9"/>
<rect x="260.25" y="428.65" width="5.50" height="5.50" fill="none" stroke="#3e9a1c" stroke-width="1.0"/>
<line x1="276.60" y1="447.00" x2="276.60" y2="454.80" stroke="#3e9a1c" stroke-width="0.9" stroke-dasharray="2,1.6"/>
<line x1="275.00" y1="447.00" x2="278.20" y2="447.00" stroke="#3e9a1c" stroke-width="0.9"/>
<line x1="275.00" y1="454.80" x2="278.20" y2="454.80" stroke="#3e9a1c" stroke-width="0.9"/>
<rect x="273.85" y="448.15" width="5.50" height="5.50" fill="none" stroke="#3e9a1c" stroke-width="1.0"/>
<line x1="290.20" y1="447.50" x2="290.20" y2="455.30" stroke="#3e9a1c" stroke-width="0.9" stroke-dasharray="2,1.6"/>
<line x1="288.60" y1="447.50" x2="291.80" y2="447.50" stroke="#3e9a1c" stroke-width="0.9"/>
<line x1="288.60" y1="455.30" x2="291.80" y2="455.30" stroke="#3e9a1c" stroke-width="0.9"/>
<rect x="287.45" y="448.65" width="5.50" height="5.50" fill="none" stroke="#3e9a1c" stroke-width="1.0"/>
<polyline points="69.02,413.80 75.83,396.10 82.64,450.90 89.45,409.30 96.26,401.60 103.07,400.00 109.88,385.30 116.69,399.10 123.50,400.00 130.31,416.30 137.12,397.00 143.93,398.80 150.74,398.60 157.55,415.00 164.36,407.40 171.17,387.80 177.98,393.50 184.79,376.50 191.60,392.30 198.41,390.00 205.22,396.70 212.03,384.00 218.84,409.40 225.65,392.00 232.46,380.30 239.27,406.70 249.40,390.40 263.00,401.70 276.60,399.30 290.20,400.90 303.80,408.70 321.00,392.10 348.50,407.00" fill="none" stroke="#0000f0" stroke-width="1.1"/>
<line x1="69.02" y1="399.50" x2="69.02" y2="428.10" stroke="#0000f0" stroke-width="0.9"/>
<line x1="67.42" y1="399.50" x2="70.62" y2="399.50" stroke="#0000f0" stroke-width="0.9"/>
<line x1="67.42" y1="428.10" x2="70.62" y2="428.10" stroke="#0000f0" stroke-width="0.9"/>
<path d="M69.02,410.60 L71.82,416.10 L66.22,416.10Z" fill="#0000f0"/>
<line x1="75.83" y1="384.16" x2="75.83" y2="408.04" stroke="#0000f0" stroke-width="0.9"/>
<line x1="74.23" y1="384.16" x2="77.43" y2="384.16" stroke="#0000f0" stroke-width="0.9"/>
<line x1="74.23" y1="408.04" x2="77.43" y2="408.04" stroke="#0000f0" stroke-width="0.9"/>
<path d="M75.83,392.90 L78.63,398.40 L73.03,398.40Z" fill="#0000f0"/>
<line x1="82.64" y1="440.92" x2="82.64" y2="460.88" stroke="#0000f0" stroke-width="0.9"/>
<line x1="81.04" y1="440.92" x2="84.24" y2="440.92" stroke="#0000f0" stroke-width="0.9"/>
<line x1="81.04" y1="460.88" x2="84.24" y2="460.88" stroke="#0000f0" stroke-width="0.9"/>
<path d="M82.64,447.70 L85.44,453.20 L79.84,453.20Z" fill="#0000f0"/>
<line x1="89.45" y1="400.97" x2="89.45" y2="417.63" stroke="#0000f0" stroke-width="0.9"/>
<line x1="87.85" y1="400.97" x2="91.05" y2="400.97" stroke="#0000f0" stroke-width="0.9"/>
<line x1="87.85" y1="417.63" x2="91.05" y2="417.63" stroke="#0000f0" stroke-width="0.9"/>
<path d="M89.45,406.10 L92.25,411.60 L86.65,411.60Z" fill="#0000f0"/>
<line x1="96.26" y1="394.64" x2="96.26" y2="408.56" stroke="#0000f0" stroke-width="0.9"/>
<line x1="94.66" y1="394.64" x2="97.86" y2="394.64" stroke="#0000f0" stroke-width="0.9"/>
<line x1="94.66" y1="408.56" x2="97.86" y2="408.56" stroke="#0000f0" stroke-width="0.9"/>
<path d="M96.26,398.40 L99.06,403.90 L93.46,403.90Z" fill="#0000f0"/>
<line x1="103.07" y1="394.19" x2="103.07" y2="405.81" stroke="#0000f0" stroke-width="0.9"/>
<line x1="101.47" y1="394.19" x2="104.67" y2="394.19" stroke="#0000f0" stroke-width="0.9"/>
<line x1="101.47" y1="405.81" x2="104.67" y2="405.81" stroke="#0000f0" stroke-width="0.9"/>
<path d="M103.07,396.80 L105.87,402.30 L100.27,402.30Z" fill="#0000f0"/>
<line x1="109.88" y1="380.89" x2="109.88" y2="389.71" stroke="#0000f0" stroke-width="0.9"/>
<line x1="108.28" y1="380.89" x2="111.48" y2="380.89" stroke="#0000f0" stroke-width="0.9"/>
<line x1="108.28" y1="389.71" x2="111.48" y2="389.71" stroke="#0000f0" stroke-width="0.9"/>
<path d="M109.88,382.10 L112.68,387.60 L107.08,387.60Z" fill="#0000f0"/>
<line x1="116.69" y1="395.41" x2="116.69" y2="402.79" stroke="#0000f0" stroke-width="0.9"/>
<line x1="115.09" y1="395.41" x2="118.29" y2="395.41" stroke="#0000f0" stroke-width="0.9"/>
<line x1="115.09" y1="402.79" x2="118.29" y2="402.79" stroke="#0000f0" stroke-width="0.9"/>
<path d="M116.69,395.90 L119.49,401.40 L113.89,401.40Z" fill="#0000f0"/>
<line x1="123.50" y1="396.92" x2="123.50" y2="403.08" stroke="#0000f0" stroke-width="0.9"/>
<line x1="121.90" y1="396.92" x2="125.10" y2="396.92" stroke="#0000f0" stroke-width="0.9"/>
<line x1="121.90" y1="403.08" x2="125.10" y2="403.08" stroke="#0000f0" stroke-width="0.9"/>
<path d="M123.50,396.80 L126.30,402.30 L120.70,402.30Z" fill="#0000f0"/>
<line x1="130.31" y1="413.30" x2="130.31" y2="419.30" stroke="#0000f0" stroke-width="0.9"/>
<line x1="128.71" y1="413.30" x2="131.91" y2="413.30" stroke="#0000f0" stroke-width="0.9"/>
<line x1="128.71" y1="419.30" x2="131.91" y2="419.30" stroke="#0000f0" stroke-width="0.9"/>
<path d="M130.31,413.10 L133.11,418.60 L127.51,418.60Z" fill="#0000f0"/>
<line x1="137.12" y1="394.00" x2="137.12" y2="400.00" stroke="#0000f0" stroke-width="0.9"/>
<line x1="135.52" y1="394.00" x2="138.72" y2="394.00" stroke="#0000f0" stroke-width="0.9"/>
<line x1="135.52" y1="400.00" x2="138.72" y2="400.00" stroke="#0000f0" stroke-width="0.9"/>
<path d="M137.12,393.80 L139.92,399.30 L134.32,399.30Z" fill="#0000f0"/>
<line x1="143.93" y1="395.80" x2="143.93" y2="401.80" stroke="#0000f0" stroke-width="0.9"/>
<line x1="142.33" y1="395.80" x2="145.53" y2="395.80" stroke="#0000f0" stroke-width="0.9"/>
<line x1="142.33" y1="401.80" x2="145.53" y2="401.80" stroke="#0000f0" stroke-width="0.9"/>
<path d="M143.93,395.60 L146.73,401.10 L141.13,401.10Z" fill="#0000f0"/>
<line x1="150.74" y1="395.60" x2="150.74" y2="401.60" stroke="#0000f0" stroke-width="0.9"/>
<line x1="149.14" y1="395.60" x2="152.34" y2="395.60" stroke="#0000f0" stroke-width="0.9"/>
<line x1="149.14" y1="401.60" x2="152.34" y2="401.60" stroke="#0000f0" stroke-width="0.9"/>
<path d="M150.74,395.40 L153.54,400.90 L147.94,400.90Z" fill="#0000f0"/>
<line x1="157.55" y1="412.00" x2="157.55" y2="418.00" stroke="#0000f0" stroke-width="0.9"/>
<line x1="155.95" y1="412.00" x2="159.15" y2="412.00" stroke="#0000f0" stroke-width="0.9"/>
<line x1="155.95" y1="418.00" x2="159.15" y2="418.00" stroke="#0000f0" stroke-width="0.9"/>
<path d="M157.55,411.80 L160.35,417.30 L154.75,417.30Z" fill="#0000f0"/>
<line x1="164.36" y1="404.40" x2="164.36" y2="410.40" stroke="#0000f0" stroke-width="0.9"/>
<line x1="162.76" y1="404.40" x2="165.96" y2="404.40" stroke="#0000f0" stroke-width="0.9"/>
<line x1="162.76" y1="410.40" x2="165.96" y2="410.40" stroke="#0000f0" stroke-width="0.9"/>
<path d="M164.36,404.20 L167.16,409.70 L161.56,409.70Z" fill="#0000f0"/>
<line x1="171.17" y1="384.80" x2="171.17" y2="390.80" stroke="#0000f0" stroke-width="0.9"/>
<line x1="169.57" y1="384.80" x2="172.77" y2="384.80" stroke="#0000f0" stroke-width="0.9"/>
<line x1="169.57" y1="390.80" x2="172.77" y2="390.80" stroke="#0000f0" stroke-width="0.9"/>
<path d="M171.17,384.60 L173.97,390.10 L168.37,390.10Z" fill="#0000f0"/>
<line x1="177.98" y1="390.50" x2="177.98" y2="396.50" stroke="#0000f0" stroke-width="0.9"/>
<line x1="176.38" y1="390.50" x2="179.58" y2="390.50" stroke="#0000f0" stroke-width="0.9"/>
<line x1="176.38" y1="396.50" x2="179.58" y2="396.50" stroke="#0000f0" stroke-width="0.9"/>
<path d="M177.98,390.30 L180.78,395.80 L175.18,395.80Z" fill="#0000f0"/>
<line x1="184.79" y1="373.50" x2="184.79" y2="379.50" stroke="#0000f0" stroke-width="0.9"/>
<line x1="183.19" y1="373.50" x2="186.39" y2="373.50" stroke="#0000f0" stroke-width="0.9"/>
<line x1="183.19" y1="379.50" x2="186.39" y2="379.50" stroke="#0000f0" stroke-width="0.9"/>
<path d="M184.79,373.30 L187.59,378.80 L181.99,378.80Z" fill="#0000f0"/>
<line x1="191.60" y1="389.30" x2="191.60" y2="395.30" stroke="#0000f0" stroke-width="0.9"/>
<line x1="190.00" y1="389.30" x2="193.20" y2="389.30" stroke="#0000f0" stroke-width="0.9"/>
<line x1="190.00" y1="395.30" x2="193.20" y2="395.30" stroke="#0000f0" stroke-width="0.9"/>
<path d="M191.60,389.10 L194.40,394.60 L188.80,394.60Z" fill="#0000f0"/>
<line x1="198.41" y1="387.00" x2="198.41" y2="393.00" stroke="#0000f0" stroke-width="0.9"/>
<line x1="196.81" y1="387.00" x2="200.01" y2="387.00" stroke="#0000f0" stroke-width="0.9"/>
<line x1="196.81" y1="393.00" x2="200.01" y2="393.00" stroke="#0000f0" stroke-width="0.9"/>
<path d="M198.41,386.80 L201.21,392.30 L195.61,392.30Z" fill="#0000f0"/>
<line x1="205.22" y1="393.70" x2="205.22" y2="399.70" stroke="#0000f0" stroke-width="0.9"/>
<line x1="203.62" y1="393.70" x2="206.82" y2="393.70" stroke="#0000f0" stroke-width="0.9"/>
<line x1="203.62" y1="399.70" x2="206.82" y2="399.70" stroke="#0000f0" stroke-width="0.9"/>
<path d="M205.22,393.50 L208.02,399.00 L202.42,399.00Z" fill="#0000f0"/>
<line x1="212.03" y1="381.00" x2="212.03" y2="387.00" stroke="#0000f0" stroke-width="0.9"/>
<line x1="210.43" y1="381.00" x2="213.63" y2="381.00" stroke="#0000f0" stroke-width="0.9"/>
<line x1="210.43" y1="387.00" x2="213.63" y2="387.00" stroke="#0000f0" stroke-width="0.9"/>
<path d="M212.03,380.80 L214.83,386.30 L209.23,386.30Z" fill="#0000f0"/>
<line x1="218.84" y1="406.40" x2="218.84" y2="412.40" stroke="#0000f0" stroke-width="0.9"/>
<line x1="217.24" y1="406.40" x2="220.44" y2="406.40" stroke="#0000f0" stroke-width="0.9"/>
<line x1="217.24" y1="412.40" x2="220.44" y2="412.40" stroke="#0000f0" stroke-width="0.9"/>
<path d="M218.84,406.20 L221.64,411.70 L216.04,411.70Z" fill="#0000f0"/>
<line x1="225.65" y1="389.00" x2="225.65" y2="395.00" stroke="#0000f0" stroke-width="0.9"/>
<line x1="224.05" y1="389.00" x2="227.25" y2="389.00" stroke="#0000f0" stroke-width="0.9"/>
<line x1="224.05" y1="395.00" x2="227.25" y2="395.00" stroke="#0000f0" stroke-width="0.9"/>
<path d="M225.65,388.80 L228.45,394.30 L222.85,394.30Z" fill="#0000f0"/>
<line x1="232.46" y1="377.30" x2="232.46" y2="383.30" stroke="#0000f0" stroke-width="0.9"/>
<line x1="230.86" y1="377.30" x2="234.06" y2="377.30" stroke="#0000f0" stroke-width="0.9"/>
<line x1="230.86" y1="383.30" x2="234.06" y2="383.30" stroke="#0000f0" stroke-width="0.9"/>
<path d="M232.46,377.10 L235.26,382.60 L229.66,382.60Z" fill="#0000f0"/>
<line x1="239.27" y1="403.70" x2="239.27" y2="409.70" stroke="#0000f0" stroke-width="0.9"/>
<line x1="237.67" y1="403.70" x2="240.87" y2="403.70" stroke="#0000f0" stroke-width="0.9"/>
<line x1="237.67" y1="409.70" x2="240.87" y2="409.70" stroke="#0000f0" stroke-width="0.9"/>
<path d="M239.27,403.50 L242.07,409.00 L236.47,409.00Z" fill="#0000f0"/>
<line x1="249.40" y1="386.50" x2="249.40" y2="394.30" stroke="#0000f0" stroke-width="0.9"/>
<line x1="247.80" y1="386.50" x2="251.00" y2="386.50" stroke="#0000f0" stroke-width="0.9"/>
<line x1="247.80" y1="394.30" x2="251.00" y2="394.30" stroke="#0000f0" stroke-width="0.9"/>
<path d="M249.40,387.20 L252.20,392.70 L246.60,392.70Z" fill="#0000f0"/>
<line x1="263.00" y1="397.80" x2="263.00" y2="405.60" stroke="#0000f0" stroke-width="0.9"/>
<line x1="261.40" y1="397.80" x2="264.60" y2="397.80" stroke="#0000f0" stroke-width="0.9"/>
<line x1="261.40" y1="405.60" x2="264.60" y2="405.60" stroke="#0000f0" stroke-width="0.9"/>
<path d="M263.00,398.50 L265.80,404.00 L260.20,404.00Z" fill="#0000f0"/>
<line x1="276.60" y1="395.40" x2="276.60" y2="403.20" stroke="#0000f0" stroke-width="0.9"/>
<line x1="275.00" y1="395.40" x2="278.20" y2="395.40" stroke="#0000f0" stroke-width="0.9"/>
<line x1="275.00" y1="403.20" x2="278.20" y2="403.20" stroke="#0000f0" stroke-width="0.9"/>
<path d="M276.60,396.10 L279.40,401.60 L273.80,401.60Z" fill="#0000f0"/>
<line x1="290.20" y1="397.00" x2="290.20" y2="404.80" stroke="#0000f0" stroke-width="0.9"/>
<line x1="288.60" y1="397.00" x2="291.80" y2="397.00" stroke="#0000f0" stroke-width="0.9"/>
<line x1="288.60" y1="404.80" x2="291.80" y2="404.80" stroke="#0000f0" stroke-width="0.9"/>
<path d="M290.20,397.70 L293.00,403.20 L287.40,403.20Z" fill="#0000f0"/>
<line x1="303.80" y1="404.80" x2="303.80" y2="412.60" stroke="#0000f0" stroke-width="0.9"/>
<line x1="302.20" y1="404.80" x2="305.40" y2="404.80" stroke="#0000f0" stroke-width="0.9"/>
<line x1="302.20" y1="412.60" x2="305.40" y2="412.60" stroke="#0000f0" stroke-width="0.9"/>
<path d="M303.80,405.50 L306.60,411.00 L301.00,411.00Z" fill="#0000f0"/>
<line x1="321.00" y1="388.20" x2="321.00" y2="396.00" stroke="#0000f0" stroke-width="0.9"/>
<line x1="319.40" y1="388.20" x2="322.60" y2="388.20" stroke="#0000f0" stroke-width="0.9"/>
<line x1="319.40" y1="396.00" x2="322.60" y2="396.00" stroke="#0000f0" stroke-width="0.9"/>
<path d="M321.00,388.90 L323.80,394.40 L318.20,394.40Z" fill="#0000f0"/>
<line x1="348.50" y1="403.10" x2="348.50" y2="410.90" stroke="#0000f0" stroke-width="0.9"/>
<line x1="346.90" y1="403.10" x2="350.10" y2="403.10" stroke="#0000f0" stroke-width="0.9"/>
<line x1="346.90" y1="410.90" x2="350.10" y2="410.90" stroke="#0000f0" stroke-width="0.9"/>
<path d="M348.50,403.80 L351.30,409.30 L345.70,409.30Z" fill="#0000f0"/>
<polyline points="69.02,405.80 75.83,349.20 82.64,399.10 89.45,363.00 96.26,377.50 103.07,359.00 109.88,363.30 116.69,383.60 123.50,366.30 130.31,388.30 137.12,374.30 143.93,380.30 150.74,376.30 157.55,402.80 164.36,387.00 171.17,377.50 177.98,382.30 184.79,376.20 191.60,392.30 198.41,380.20 205.22,401.00 212.03,389.00 218.84,403.10 225.65,400.50 232.46,387.50 239.27,403.80 249.40,404.50 263.00,418.90 276.60,410.30 290.20,418.90 303.80,423.90 321.00,423.40 348.50,438.50" fill="none" stroke="#1a9abf" stroke-width="1" stroke-dasharray="3,1.5,1,1.5"/>
<line x1="69.02" y1="392.80" x2="69.02" y2="418.80" stroke="#1a9abf" stroke-width="0.9" stroke-dasharray="3,1.5,1,1.5"/>
<line x1="67.42" y1="392.80" x2="70.62" y2="392.80" stroke="#1a9abf" stroke-width="0.9"/>
<line x1="67.42" y1="418.80" x2="70.62" y2="418.80" stroke="#1a9abf" stroke-width="0.9"/>
<path d="M69.02,409.10 L72.02,403.40 L66.02,403.40Z" fill="#1a9abf"/>
<line x1="75.83" y1="338.34" x2="75.83" y2="360.06" stroke="#1a9abf" stroke-width="0.9" stroke-dasharray="3,1.5,1,1.5"/>
<line x1="74.23" y1="338.34" x2="77.43" y2="338.34" stroke="#1a9abf" stroke-width="0.9"/>
<line x1="74.23" y1="360.06" x2="77.43" y2="360.06" stroke="#1a9abf" stroke-width="0.9"/>
<path d="M75.83,352.50 L78.83,346.80 L72.83,346.80Z" fill="#1a9abf"/>
<line x1="82.64" y1="390.03" x2="82.64" y2="408.17" stroke="#1a9abf" stroke-width="0.9" stroke-dasharray="3,1.5,1,1.5"/>
<line x1="81.04" y1="390.03" x2="84.24" y2="390.03" stroke="#1a9abf" stroke-width="0.9"/>
<line x1="81.04" y1="408.17" x2="84.24" y2="408.17" stroke="#1a9abf" stroke-width="0.9"/>
<path d="M82.64,402.40 L85.64,396.70 L79.64,396.70Z" fill="#1a9abf"/>
<line x1="89.45" y1="355.42" x2="89.45" y2="370.58" stroke="#1a9abf" stroke-width="0.9" stroke-dasharray="3,1.5,1,1.5"/>
<line x1="87.85" y1="355.42" x2="91.05" y2="355.42" stroke="#1a9abf" stroke-width="0.9"/>
<line x1="87.85" y1="370.58" x2="91.05" y2="370.58" stroke="#1a9abf" stroke-width="0.9"/>
<path d="M89.45,366.30 L92.45,360.60 L86.45,360.60Z" fill="#1a9abf"/>
<line x1="96.26" y1="371.17" x2="96.26" y2="383.83" stroke="#1a9abf" stroke-width="0.9" stroke-dasharray="3,1.5,1,1.5"/>
<line x1="94.66" y1="371.17" x2="97.86" y2="371.17" stroke="#1a9abf" stroke-width="0.9"/>
<line x1="94.66" y1="383.83" x2="97.86" y2="383.83" stroke="#1a9abf" stroke-width="0.9"/>
<path d="M96.26,380.80 L99.26,375.10 L93.26,375.10Z" fill="#1a9abf"/>
<line x1="103.07" y1="353.71" x2="103.07" y2="364.29" stroke="#1a9abf" stroke-width="0.9" stroke-dasharray="3,1.5,1,1.5"/>
<line x1="101.47" y1="353.71" x2="104.67" y2="353.71" stroke="#1a9abf" stroke-width="0.9"/>
<line x1="101.47" y1="364.29" x2="104.67" y2="364.29" stroke="#1a9abf" stroke-width="0.9"/>
<path d="M103.07,362.30 L106.07,356.60 L100.07,356.60Z" fill="#1a9abf"/>
<line x1="109.88" y1="358.89" x2="109.88" y2="367.71" stroke="#1a9abf" stroke-width="0.9" stroke-dasharray="3,1.5,1,1.5"/>
<line x1="108.28" y1="358.89" x2="111.48" y2="358.89" stroke="#1a9abf" stroke-width="0.9"/>
<line x1="108.28" y1="367.71" x2="111.48" y2="367.71" stroke="#1a9abf" stroke-width="0.9"/>
<path d="M109.88,366.60 L112.88,360.90 L106.88,360.90Z" fill="#1a9abf"/>
<line x1="116.69" y1="379.91" x2="116.69" y2="387.29" stroke="#1a9abf" stroke-width="0.9" stroke-dasharray="3,1.5,1,1.5"/>
<line x1="115.09" y1="379.91" x2="118.29" y2="379.91" stroke="#1a9abf" stroke-width="0.9"/>
<line x1="115.09" y1="387.29" x2="118.29" y2="387.29" stroke="#1a9abf" stroke-width="0.9"/>
<path d="M116.69,386.90 L119.69,381.20 L113.69,381.20Z" fill="#1a9abf"/>
<line x1="123.50" y1="363.22" x2="123.50" y2="369.38" stroke="#1a9abf" stroke-width="0.9" stroke-dasharray="3,1.5,1,1.5"/>
<line x1="121.90" y1="363.22" x2="125.10" y2="363.22" stroke="#1a9abf" stroke-width="0.9"/>
<line x1="121.90" y1="369.38" x2="125.10" y2="369.38" stroke="#1a9abf" stroke-width="0.9"/>
<path d="M123.50,369.60 L126.50,363.90 L120.50,363.90Z" fill="#1a9abf"/>
<line x1="130.31" y1="385.30" x2="130.31" y2="391.30" stroke="#1a9abf" stroke-width="0.9" stroke-dasharray="3,1.5,1,1.5"/>
<line x1="128.71" y1="385.30" x2="131.91" y2="385.30" stroke="#1a9abf" stroke-width="0.9"/>
<line x1="128.71" y1="391.30" x2="131.91" y2="391.30" stroke="#1a9abf" stroke-width="0.9"/>
<path d="M130.31,391.60 L133.31,385.90 L127.31,385.90Z" fill="#1a9abf"/>
<line x1="137.12" y1="371.30" x2="137.12" y2="377.30" stroke="#1a9abf" stroke-width="0.9" stroke-dasharray="3,1.5,1,1.5"/>
<line x1="135.52" y1="371.30" x2="138.72" y2="371.30" stroke="#1a9abf" stroke-width="0.9"/>
<line x1="135.52" y1="377.30" x2="138.72" y2="377.30" stroke="#1a9abf" stroke-width="0.9"/>
<path d="M137.12,377.60 L140.12,371.90 L134.12,371.90Z" fill="#1a9abf"/>
<line x1="143.93" y1="377.30" x2="143.93" y2="383.30" stroke="#1a9abf" stroke-width="0.9" stroke-dasharray="3,1.5,1,1.5"/>
<line x1="142.33" y1="377.30" x2="145.53" y2="377.30" stroke="#1a9abf" stroke-width="0.9"/>
<line x1="142.33" y1="383.30" x2="145.53" y2="383.30" stroke="#1a9abf" stroke-width="0.9"/>
<path d="M143.93,383.60 L146.93,377.90 L140.93,377.90Z" fill="#1a9abf"/>
<line x1="150.74" y1="373.30" x2="150.74" y2="379.30" stroke="#1a9abf" stroke-width="0.9" stroke-dasharray="3,1.5,1,1.5"/>
<line x1="149.14" y1="373.30" x2="152.34" y2="373.30" stroke="#1a9abf" stroke-width="0.9"/>
<line x1="149.14" y1="379.30" x2="152.34" y2="379.30" stroke="#1a9abf" stroke-width="0.9"/>
<path d="M150.74,379.60 L153.74,373.90 L147.74,373.90Z" fill="#1a9abf"/>
<line x1="157.55" y1="399.80" x2="157.55" y2="405.80" stroke="#1a9abf" stroke-width="0.9" stroke-dasharray="3,1.5,1,1.5"/>
<line x1="155.95" y1="399.80" x2="159.15" y2="399.80" stroke="#1a9abf" stroke-width="0.9"/>
<line x1="155.95" y1="405.80" x2="159.15" y2="405.80" stroke="#1a9abf" stroke-width="0.9"/>
<path d="M157.55,406.10 L160.55,400.40 L154.55,400.40Z" fill="#1a9abf"/>
<line x1="164.36" y1="384.00" x2="164.36" y2="390.00" stroke="#1a9abf" stroke-width="0.9" stroke-dasharray="3,1.5,1,1.5"/>
<line x1="162.76" y1="384.00" x2="165.96" y2="384.00" stroke="#1a9abf" stroke-width="0.9"/>
<line x1="162.76" y1="390.00" x2="165.96" y2="390.00" stroke="#1a9abf" stroke-width="0.9"/>
<path d="M164.36,390.30 L167.36,384.60 L161.36,384.60Z" fill="#1a9abf"/>
<line x1="171.17" y1="374.50" x2="171.17" y2="380.50" stroke="#1a9abf" stroke-width="0.9" stroke-dasharray="3,1.5,1,1.5"/>
<line x1="169.57" y1="374.50" x2="172.77" y2="374.50" stroke="#1a9abf" stroke-width="0.9"/>
<line x1="169.57" y1="380.50" x2="172.77" y2="380.50" stroke="#1a9abf" stroke-width="0.9"/>
<path d="M171.17,380.80 L174.17,375.10 L168.17,375.10Z" fill="#1a9abf"/>
<line x1="177.98" y1="379.30" x2="177.98" y2="385.30" stroke="#1a9abf" stroke-width="0.9" stroke-dasharray="3,1.5,1,1.5"/>
<line x1="176.38" y1="379.30" x2="179.58" y2="379.30" stroke="#1a9abf" stroke-width="0.9"/>
<line x1="176.38" y1="385.30" x2="179.58" y2="385.30" stroke="#1a9abf" stroke-width="0.9"/>
<path d="M177.98,385.60 L180.98,379.90 L174.98,379.90Z" fill="#1a9abf"/>
<line x1="184.79" y1="373.20" x2="184.79" y2="379.20" stroke="#1a9abf" stroke-width="0.9" stroke-dasharray="3,1.5,1,1.5"/>
<line x1="183.19" y1="373.20" x2="186.39" y2="373.20" stroke="#1a9abf" stroke-width="0.9"/>
<line x1="183.19" y1="379.20" x2="186.39" y2="379.20" stroke="#1a9abf" stroke-width="0.9"/>
<path d="M184.79,379.50 L187.79,373.80 L181.79,373.80Z" fill="#1a9abf"/>
<line x1="191.60" y1="389.30" x2="191.60" y2="395.30" stroke="#1a9abf" stroke-width="0.9" stroke-dasharray="3,1.5,1,1.5"/>
<line x1="190.00" y1="389.30" x2="193.20" y2="389.30" stroke="#1a9abf" stroke-width="0.9"/>
<line x1="190.00" y1="395.30" x2="193.20" y2="395.30" stroke="#1a9abf" stroke-width="0.9"/>
<path d="M191.60,395.60 L194.60,389.90 L188.60,389.90Z" fill="#1a9abf"/>
<line x1="198.41" y1="377.20" x2="198.41" y2="383.20" stroke="#1a9abf" stroke-width="0.9" stroke-dasharray="3,1.5,1,1.5"/>
<line x1="196.81" y1="377.20" x2="200.01" y2="377.20" stroke="#1a9abf" stroke-width="0.9"/>
<line x1="196.81" y1="383.20" x2="200.01" y2="383.20" stroke="#1a9abf" stroke-width="0.9"/>
<path d="M198.41,383.50 L201.41,377.80 L195.41,377.80Z" fill="#1a9abf"/>
<line x1="205.22" y1="398.00" x2="205.22" y2="404.00" stroke="#1a9abf" stroke-width="0.9" stroke-dasharray="3,1.5,1,1.5"/>
<line x1="203.62" y1="398.00" x2="206.82" y2="398.00" stroke="#1a9abf" stroke-width="0.9"/>
<line x1="203.62" y1="404.00" x2="206.82" y2="404.00" stroke="#1a9abf" stroke-width="0.9"/>
<path d="M205.22,404.30 L208.22,398.60 L202.22,398.60Z" fill="#1a9abf"/>
<line x1="212.03" y1="386.00" x2="212.03" y2="392.00" stroke="#1a9abf" stroke-width="0.9" stroke-dasharray="3,1.5,1,1.5"/>
<line x1="210.43" y1="386.00" x2="213.63" y2="386.00" stroke="#1a9abf" stroke-width="0.9"/>
<line x1="210.43" y1="392.00" x2="213.63" y2="392.00" stroke="#1a9abf" stroke-width="0.9"/>
<path d="M212.03,392.30 L215.03,386.60 L209.03,386.60Z" fill="#1a9abf"/>
<line x1="218.84" y1="400.10" x2="218.84" y2="406.10" stroke="#1a9abf" stroke-width="0.9" stroke-dasharray="3,1.5,1,1.5"/>
<line x1="217.24" y1="400.10" x2="220.44" y2="400.10" stroke="#1a9abf" stroke-width="0.9"/>
<line x1="217.24" y1="406.10" x2="220.44" y2="406.10" stroke="#1a9abf" stroke-width="0.9"/>
<path d="M218.84,406.40 L221.84,400.70 L215.84,400.70Z" fill="#1a9abf"/>
<line x1="225.65" y1="397.50" x2="225.65" y2="403.50" stroke="#1a9abf" stroke-width="0.9" stroke-dasharray="3,1.5,1,1.5"/>
<line x1="224.05" y1="397.50" x2="227.25" y2="397.50" stroke="#1a9abf" stroke-width="0.9"/>
<line x1="224.05" y1="403.50" x2="227.25" y2="403.50" stroke="#1a9abf" stroke-width="0.9"/>
<path d="M225.65,403.80 L228.65,398.10 L222.65,398.10Z" fill="#1a9abf"/>
<line x1="232.46" y1="384.50" x2="232.46" y2="390.50" stroke="#1a9abf" stroke-width="0.9" stroke-dasharray="3,1.5,1,1.5"/>
<line x1="230.86" y1="384.50" x2="234.06" y2="384.50" stroke="#1a9abf" stroke-width="0.9"/>
<line x1="230.86" y1="390.50" x2="234.06" y2="390.50" stroke="#1a9abf" stroke-width="0.9"/>
<path d="M232.46,390.80 L235.46,385.10 L229.46,385.10Z" fill="#1a9abf"/>
<line x1="239.27" y1="400.80" x2="239.27" y2="406.80" stroke="#1a9abf" stroke-width="0.9" stroke-dasharray="3,1.5,1,1.5"/>
<line x1="237.67" y1="400.80" x2="240.87" y2="400.80" stroke="#1a9abf" stroke-width="0.9"/>
<line x1="237.67" y1="406.80" x2="240.87" y2="406.80" stroke="#1a9abf" stroke-width="0.9"/>
<path d="M239.27,407.10 L242.27,401.40 L236.27,401.40Z" fill="#1a9abf"/>
<line x1="249.40" y1="400.60" x2="249.40" y2="408.40" stroke="#1a9abf" stroke-width="0.9" stroke-dasharray="3,1.5,1,1.5"/>
<line x1="247.80" y1="400.60" x2="251.00" y2="400.60" stroke="#1a9abf" stroke-width="0.9"/>
<line x1="247.80" y1="408.40" x2="251.00" y2="408.40" stroke="#1a9abf" stroke-width="0.9"/>
<path d="M249.40,407.80 L252.40,402.10 L246.40,402.10Z" fill="#1a9abf"/>
<line x1="263.00" y1="415.00" x2="263.00" y2="422.80" stroke="#1a9abf" stroke-width="0.9" stroke-dasharray="3,1.5,1,1.5"/>
<line x1="261.40" y1="415.00" x2="264.60" y2="415.00" stroke="#1a9abf" stroke-width="0.9"/>
<line x1="261.40" y1="422.80" x2="264.60" y2="422.80" stroke="#1a9abf" stroke-width="0.9"/>
<path d="M263.00,422.20 L266.00,416.50 L260.00,416.50Z" fill="#1a9abf"/>
<line x1="276.60" y1="406.40" x2="276.60" y2="414.20" stroke="#1a9abf" stroke-width="0.9" stroke-dasharray="3,1.5,1,1.5"/>
<line x1="275.00" y1="406.40" x2="278.20" y2="406.40" stroke="#1a9abf" stroke-width="0.9"/>
<line x1="275.00" y1="414.20" x2="278.20" y2="414.20" stroke="#1a9abf" stroke-width="0.9"/>
<path d="M276.60,413.60 L279.60,407.90 L273.60,407.90Z" fill="#1a9abf"/>
<line x1="290.20" y1="415.00" x2="290.20" y2="422.80" stroke="#1a9abf" stroke-width="0.9" stroke-dasharray="3,1.5,1,1.5"/>
<line x1="288.60" y1="415.00" x2="291.80" y2="415.00" stroke="#1a9abf" stroke-width="0.9"/>
<line x1="288.60" y1="422.80" x2="291.80" y2="422.80" stroke="#1a9abf" stroke-width="0.9"/>
<path d="M290.20,422.20 L293.20,416.50 L287.20,416.50Z" fill="#1a9abf"/>
<line x1="303.80" y1="420.00" x2="303.80" y2="427.80" stroke="#1a9abf" stroke-width="0.9" stroke-dasharray="3,1.5,1,1.5"/>
<line x1="302.20" y1="420.00" x2="305.40" y2="420.00" stroke="#1a9abf" stroke-width="0.9"/>
<line x1="302.20" y1="427.80" x2="305.40" y2="427.80" stroke="#1a9abf" stroke-width="0.9"/>
<path d="M303.80,427.20 L306.80,421.50 L300.80,421.50Z" fill="#1a9abf"/>
<line x1="321.00" y1="419.50" x2="321.00" y2="427.30" stroke="#1a9abf" stroke-width="0.9" stroke-dasharray="3,1.5,1,1.5"/>
<line x1="319.40" y1="419.50" x2="322.60" y2="419.50" stroke="#1a9abf" stroke-width="0.9"/>
<line x1="319.40" y1="427.30" x2="322.60" y2="427.30" stroke="#1a9abf" stroke-width="0.9"/>
<path d="M321.00,426.70 L324.00,421.00 L318.00,421.00Z" fill="#1a9abf"/>
<line x1="348.50" y1="434.60" x2="348.50" y2="442.40" stroke="#1a9abf" stroke-width="0.9" stroke-dasharray="3,1.5,1,1.5"/>
<line x1="346.90" y1="434.60" x2="350.10" y2="434.60" stroke="#1a9abf" stroke-width="0.9"/>
<line x1="346.90" y1="442.40" x2="350.10" y2="442.40" stroke="#1a9abf" stroke-width="0.9"/>
<path d="M348.50,441.80 L351.50,436.10 L345.50,436.10Z" fill="#1a9abf"/>
<polyline points="123.50,320.10 130.31,325.60 137.12,326.70 143.93,340.10 150.74,340.75 157.55,374.50 164.36,361.20 171.17,371.80 177.98,411.30 184.79,348.25 191.60,422.30 198.41,428.25 205.22,459.00" fill="none" stroke="#ff0000" stroke-width="0.8" stroke-dasharray="1,1"/>
<line x1="123.50" y1="303.10" x2="123.50" y2="337.10" stroke="#ff0000" stroke-width="0.9" stroke-dasharray="1,1"/>
<path d="M123.50,316.90 L125.60,320.10 L123.50,323.30 L121.40,320.10Z" fill="#ff0000"/>
<line x1="130.31" y1="308.60" x2="130.31" y2="342.60" stroke="#ff0000" stroke-width="0.9" stroke-dasharray="1,1"/>
<path d="M130.31,322.40 L132.41,325.60 L130.31,328.80 L128.21,325.60Z" fill="#ff0000"/>
<line x1="137.12" y1="308.70" x2="137.12" y2="344.70" stroke="#ff0000" stroke-width="0.9" stroke-dasharray="1,1"/>
<path d="M137.12,323.50 L139.22,326.70 L137.12,329.90 L135.02,326.70Z" fill="#ff0000"/>
<line x1="143.93" y1="325.60" x2="143.93" y2="354.60" stroke="#ff0000" stroke-width="0.9" stroke-dasharray="1,1"/>
<path d="M143.93,336.90 L146.03,340.10 L143.93,343.30 L141.83,340.10Z" fill="#ff0000"/>
<line x1="150.74" y1="326.25" x2="150.74" y2="355.25" stroke="#ff0000" stroke-width="0.9" stroke-dasharray="1,1"/>
<path d="M150.74,337.55 L152.84,340.75 L150.74,343.95 L148.64,340.75Z" fill="#ff0000"/>
<line x1="157.55" y1="364.00" x2="157.55" y2="385.00" stroke="#ff0000" stroke-width="0.9" stroke-dasharray="1,1"/>
<path d="M157.55,371.30 L159.65,374.50 L157.55,377.70 L155.45,374.50Z" fill="#ff0000"/>
<line x1="164.36" y1="345.60" x2="164.36" y2="376.80" stroke="#ff0000" stroke-width="0.9" stroke-dasharray="1,1"/>
<path d="M164.36,358.00 L166.46,361.20 L164.36,364.40 L162.26,361.20Z" fill="#ff0000"/>
<line x1="171.17" y1="357.80" x2="171.17" y2="385.80" stroke="#ff0000" stroke-width="0.9" stroke-dasharray="1,1"/>
<path d="M171.17,368.60 L173.27,371.80 L171.17,375.00 L169.07,371.80Z" fill="#ff0000"/>
<line x1="177.98" y1="393.30" x2="177.98" y2="429.30" stroke="#ff0000" stroke-width="0.9" stroke-dasharray="1,1"/>
<path d="M177.98,408.10 L180.08,411.30 L177.98,414.50 L175.88,411.30Z" fill="#ff0000"/>
<line x1="184.79" y1="334.25" x2="184.79" y2="362.25" stroke="#ff0000" stroke-width="0.9" stroke-dasharray="1,1"/>
<path d="M184.79,345.05 L186.89,348.25 L184.79,351.45 L182.69,348.25Z" fill="#ff0000"/>
<line x1="191.60" y1="397.80" x2="191.60" y2="446.80" stroke="#ff0000" stroke-width="0.9" stroke-dasharray="1,1"/>
<path d="M191.60,419.10 L193.70,422.30 L191.60,425.50 L189.50,422.30Z" fill="#ff0000"/>
<line x1="198.41" y1="404.75" x2="198.41" y2="451.75" stroke="#ff0000" stroke-width="0.9" stroke-dasharray="1,1"/>
<path d="M198.41,425.05 L200.51,428.25 L198.41,431.45 L196.31,428.25Z" fill="#ff0000"/>
<line x1="205.22" y1="439.00" x2="205.22" y2="479.00" stroke="#ff0000" stroke-width="0.9" stroke-dasharray="1,1"/>
<path d="M205.22,455.80 L207.32,459.00 L205.22,462.20 L203.12,459.00Z" fill="#ff0000"/>
</g>
<g clip-path="url(#cu)">
<polyline points="55.40,151.00 62.21,147.70 69.02,141.92 75.83,127.43 82.64,126.73 89.45,117.36 96.26,113.65 103.07,110.65 109.88,107.19 116.69,105.09 123.50,100.96 130.31,99.62 137.12,93.53 143.93,95.76 150.74,90.82 157.55,92.87 164.36,90.33 171.17,85.53 177.98,87.11 184.79,84.94 191.60,85.72 198.41,85.33 205.22,87.87 212.03,86.11 218.84,87.37 225.65,88.65 232.46,86.38 239.27,90.23 249.40,90.46 263.00,90.13 276.60,94.39 290.20,97.42 303.80,98.02 321.00,106.28 348.50,114.33" fill="none" stroke="#b05a10" stroke-width="1" stroke-dasharray="2,1.6"/>
<polyline points="55.40,137.80 62.21,133.50 69.02,130.04 75.83,120.68 82.64,118.05 89.45,109.78 96.26,104.85 103.07,102.72 109.88,98.27 116.69,96.15 123.50,92.16 130.31,91.29 137.12,88.36 143.93,89.24 150.74,86.64 157.55,87.87 164.36,85.66 171.17,80.77 177.98,84.97 184.79,81.33 191.60,84.35 198.41,83.03 205.22,86.15 212.03,86.49 218.84,89.82 225.65,88.62 232.46,86.73 239.27,89.85 249.40,93.63 263.00,95.42 276.60,102.82 290.20,106.81 303.80,115.30 321.00,123.10 348.50,135.70" fill="none" stroke="#3e9a1c" stroke-width="1" stroke-dasharray="2,1.6"/>
<polyline points="55.40,146.00 62.21,139.00 69.02,134.36 75.83,128.07 82.64,125.82 89.45,118.37 96.26,112.53 103.07,109.95 109.88,104.89 116.69,104.50 123.50,99.65 130.31,99.79 137.12,94.63 143.93,94.24 150.74,92.11 157.55,92.87 164.36,91.74 171.17,86.63 177.98,87.32 184.79,83.86 191.60,86.61 198.41,85.71 205.22,86.88 212.03,84.66 218.84,89.09 225.65,86.56 232.46,84.52 239.27,89.62 249.40,89.08 263.00,90.25 276.60,93.83 290.20,98.01 303.80,101.47 321.00,106.68 348.50,116.37" fill="none" stroke="#0000f0" stroke-width="1.1"/>
<polyline points="55.40,137.30 62.21,130.80 69.02,132.96 75.83,119.90 82.64,116.80 89.45,110.31 96.26,108.33 103.07,102.81 109.88,101.06 116.69,101.80 123.50,93.78 130.31,94.91 137.12,90.67 143.93,91.02 150.74,88.22 157.55,90.74 164.36,88.19 171.17,84.83 177.98,85.37 184.79,83.81 191.60,86.61 198.41,84.00 205.22,87.63 212.03,85.54 218.84,87.99 225.65,88.04 232.46,85.77 239.27,89.12 249.40,91.54 263.00,93.25 276.60,95.75 290.20,101.15 303.80,104.12 321.00,112.13 348.50,121.86" fill="none" stroke="#1a9abf" stroke-width="1" stroke-dasharray="3,1.5,1,1.5"/>
<polyline points="55.40,79.30 62.21,88.50 69.02,91.60 75.83,97.30 82.64,94.60 89.45,87.50 96.26,84.80 103.07,89.10 109.88,82.60 116.69,87.80 123.50,85.50 130.31,83.40 137.12,82.30 143.93,82.80 150.74,81.60 157.55,84.40 164.36,83.00 171.17,84.70 177.98,90.90 184.79,80.00 191.60,92.20 198.41,92.50 205.22,96.90 212.03,107.80 218.84,105.50 225.65,114.40 232.46,122.00 239.27,123.30 249.40,121.30 263.00,137.30 276.60,141.70 290.20,157.70 303.80,153.10" fill="none" stroke="#ff0000" stroke-width="0.8" stroke-dasharray="1,1"/>
<rect x="52.70" y="200.20" width="5.4" height="5.4" fill="#000"/>
<rect x="59.51" y="178.30" width="5.4" height="5.4" fill="#000"/>
<rect x="66.32" y="128.80" width="5.4" height="5.4" fill="#000"/>
<rect x="73.13" y="125.60" width="5.4" height="5.4" fill="#000"/>
<rect x="79.94" y="113.80" width="5.4" height="5.4" fill="#000"/>
<rect x="86.75" y="113.60" width="5.4" height="5.4" fill="#000"/>
<rect x="93.56" y="109.10" width="5.4" height="5.4" fill="#000"/>
<rect x="100.37" y="106.80" width="5.4" height="5.4" fill="#000"/>
<rect x="107.18" y="104.30" width="5.4" height="5.4" fill="#000"/>
<rect x="113.99" y="101.50" width="5.4" height="5.4" fill="#000"/>
<rect x="120.80" y="96.50" width="5.4" height="5.4" fill="#000"/>
<rect x="127.61" y="93.80" width="5.4" height="5.4" fill="#000"/>
<rect x="134.42" y="92.00" width="5.4" height="5.4" fill="#000"/>
<rect x="141.23" y="91.30" width="5.4" height="5.4" fill="#000"/>
<rect x="148.04" y="89.20" width="5.4" height="5.4" fill="#000"/>
<rect x="154.85" y="87.10" width="5.4" height="5.4" fill="#000"/>
<rect x="161.66" y="87.30" width="5.4" height="5.4" fill="#000"/>
<rect x="168.47" y="85.60" width="5.4" height="5.4" fill="#000"/>
<rect x="175.28" y="85.30" width="5.4" height="5.4" fill="#000"/>
<rect x="182.09" y="84.80" width="5.4" height="5.4" fill="#000"/>
<rect x="188.90" y="84.80" width="5.4" height="5.4" fill="#000"/>
<rect x="195.71" y="84.30" width="5.4" height="5.4" fill="#000"/>
<rect x="202.52" y="84.30" width="5.4" height="5.4" fill="#000"/>
<rect x="209.33" y="84.30" width="5.4" height="5.4" fill="#000"/>
<rect x="216.14" y="84.30" width="5.4" height="5.4" fill="#000"/>
<rect x="222.95" y="84.80" width="5.4" height="5.4" fill="#000"/>
<rect x="229.76" y="84.80" width="5.4" height="5.4" fill="#000"/>
<rect x="236.57" y="85.30" width="5.4" height="5.4" fill="#000"/>
<rect x="246.70" y="87.60" width="5.4" height="5.4" fill="#000"/>
<rect x="260.30" y="86.80" width="5.4" height="5.4" fill="#000"/>
<rect x="273.90" y="90.80" width="5.4" height="5.4" fill="#000"/>
<rect x="287.50" y="94.70" width="5.4" height="5.4" fill="#000"/>
<rect x="301.10" y="96.80" width="5.4" height="5.4" fill="#000"/>
<rect x="318.30" y="104.90" width="5.4" height="5.4" fill="#000"/>
<rect x="345.80" y="112.00" width="5.4" height="5.4" fill="#000"/>
<circle cx="55.40" cy="151.00" r="2.50" fill="none" stroke="#b05a10" stroke-width="1.0"/>
<circle cx="62.21" cy="147.70" r="2.50" fill="none" stroke="#b05a10" stroke-width="1.0"/>
<circle cx="69.02" cy="141.92" r="2.50" fill="none" stroke="#b05a10" stroke-width="1.0"/>
<circle cx="75.83" cy="127.43" r="2.50" fill="none" stroke="#b05a10" stroke-width="1.0"/>
<circle cx="82.64" cy="126.73" r="2.50" fill="none" stroke="#b05a10" stroke-width="1.0"/>
<circle cx="89.45" cy="117.36" r="2.50" fill="none" stroke="#b05a10" stroke-width="1.0"/>
<circle cx="96.26" cy="113.65" r="2.50" fill="none" stroke="#b05a10" stroke-width="1.0"/>
<circle cx="103.07" cy="110.65" r="2.50" fill="none" stroke="#b05a10" stroke-width="1.0"/>
<circle cx="109.88" cy="107.19" r="2.50" fill="none" stroke="#b05a10" stroke-width="1.0"/>
<circle cx="116.69" cy="105.09" r="2.50" fill="none" stroke="#b05a10" stroke-width="1.0"/>
<circle cx="123.50" cy="100.96" r="2.50" fill="none" stroke="#b05a10" stroke-width="1.0"/>
<circle cx="130.31" cy="99.62" r="2.50" fill="none" stroke="#b05a10" stroke-width="1.0"/>
<circle cx="137.12" cy="93.53" r="2.50" fill="none" stroke="#b05a10" stroke-width="1.0"/>
<circle cx="143.93" cy="95.76" r="2.50" fill="none" stroke="#b05a10" stroke-width="1.0"/>
<circle cx="150.74" cy="90.82" r="2.50" fill="none" stroke="#b05a10" stroke-width="1.0"/>
<circle cx="157.55" cy="92.87" r="2.50" fill="none" stroke="#b05a10" stroke-width="1.0"/>
<circle cx="164.36" cy="90.33" r="2.50" fill="none" stroke="#b05a10" stroke-width="1.0"/>
<circle cx="171.17" cy="85.53" r="2.50" fill="none" stroke="#b05a10" stroke-width="1.0"/>
<circle cx="177.98" cy="87.11" r="2.50" fill="none" stroke="#b05a10" stroke-width="1.0"/>
<circle cx="184.79" cy="84.94" r="2.50" fill="none" stroke="#b05a10" stroke-width="1.0"/>
<circle cx="191.60" cy="85.72" r="2.50" fill="none" stroke="#b05a10" stroke-width="1.0"/>
<circle cx="198.41" cy="85.33" r="2.50" fill="none" stroke="#b05a10" stroke-width="1.0"/>
<circle cx="205.22" cy="87.87" r="2.50" fill="none" stroke="#b05a10" stroke-width="1.0"/>
<circle cx="212.03" cy="86.11" r="2.50" fill="none" stroke="#b05a10" stroke-width="1.0"/>
<circle cx="218.84" cy="87.37" r="2.50" fill="none" stroke="#b05a10" stroke-width="1.0"/>
<circle cx="225.65" cy="88.65" r="2.50" fill="none" stroke="#b05a10" stroke-width="1.0"/>
<circle cx="232.46" cy="86.38" r="2.50" fill="none" stroke="#b05a10" stroke-width="1.0"/>
<circle cx="239.27" cy="90.23" r="2.50" fill="none" stroke="#b05a10" stroke-width="1.0"/>
<circle cx="249.40" cy="90.46" r="2.50" fill="none" stroke="#b05a10" stroke-width="1.0"/>
<circle cx="263.00" cy="90.13" r="2.50" fill="none" stroke="#b05a10" stroke-width="1.0"/>
<circle cx="276.60" cy="94.39" r="2.50" fill="none" stroke="#b05a10" stroke-width="1.0"/>
<circle cx="290.20" cy="97.42" r="2.50" fill="none" stroke="#b05a10" stroke-width="1.0"/>
<circle cx="303.80" cy="98.02" r="2.50" fill="none" stroke="#b05a10" stroke-width="1.0"/>
<circle cx="321.00" cy="106.28" r="2.50" fill="none" stroke="#b05a10" stroke-width="1.0"/>
<circle cx="348.50" cy="114.33" r="2.50" fill="none" stroke="#b05a10" stroke-width="1.0"/>
<rect x="52.65" y="135.05" width="5.50" height="5.50" fill="none" stroke="#3e9a1c" stroke-width="1.0"/>
<rect x="59.46" y="130.75" width="5.50" height="5.50" fill="none" stroke="#3e9a1c" stroke-width="1.0"/>
<rect x="66.27" y="127.29" width="5.50" height="5.50" fill="none" stroke="#3e9a1c" stroke-width="1.0"/>
<rect x="73.08" y="117.93" width="5.50" height="5.50" fill="none" stroke="#3e9a1c" stroke-width="1.0"/>
<rect x="79.89" y="115.30" width="5.50" height="5.50" fill="none" stroke="#3e9a1c" stroke-width="1.0"/>
<rect x="86.70" y="107.03" width="5.50" height="5.50" fill="none" stroke="#3e9a1c" stroke-width="1.0"/>
<rect x="93.51" y="102.10" width="5.50" height="5.50" fill="none" stroke="#3e9a1c" stroke-width="1.0"/>
<rect x="100.32" y="99.97" width="5.50" height="5.50" fill="none" stroke="#3e9a1c" stroke-width="1.0"/>
<rect x="107.13" y="95.52" width="5.50" height="5.50" fill="none" stroke="#3e9a1c" stroke-width="1.0"/>
<rect x="113.94" y="93.40" width="5.50" height="5.50" fill="none" stroke="#3e9a1c" stroke-width="1.0"/>
<rect x="120.75" y="89.41" width="5.50" height="5.50" fill="none" stroke="#3e9a1c" stroke-width="1.0"/>
<rect x="127.56" y="88.54" width="5.50" height="5.50" fill="none" stroke="#3e9a1c" stroke-width="1.0"/>
<rect x="134.37" y="85.61" width="5.50" height="5.50" fill="none" stroke="#3e9a1c" stroke-width="1.0"/>
<rect x="141.18" y="86.49" width="5.50" height="5.50" fill="none" stroke="#3e9a1c" stroke-width="1.0"/>
<rect x="147.99" y="83.89" width="5.50" height="5.50" fill="none" stroke="#3e9a1c" stroke-width="1.0"/>
<rect x="154.80" y="85.12" width="5.50" height="5.50" fill="none" stroke="#3e9a1c" stroke-width="1.0"/>
<rect x="161.61" y="82.91" width="5.50" height="5.50" fill="none" stroke="#3e9a1c" stroke-width="1.0"/>
<rect x="168.42" y="78.02" width="5.50" height="5.50" fill="none" stroke="#3e9a1c" stroke-width="1.0"/>
<rect x="175.23" y="82.22" width="5.50" height="5.50" fill="none" stroke="#3e9a1c" stroke-width="1.0"/>
<rect x="182.04" y="78.58" width="5.50" height="5.50" fill="none" stroke="#3e9a1c" stroke-width="1.0"/>
<rect x="188.85" y="81.60" width="5.50" height="5.50" fill="none" stroke="#3e9a1c" stroke-width="1.0"/>
<rect x="195.66" y="80.28" width="5.50" height="5.50" fill="none" stroke="#3e9a1c" stroke-width="1.0"/>
<rect x="202.47" y="83.40" width="5.50" height="5.50" fill="none" stroke="#3e9a1c" stroke-width="1.0"/>
<rect x="209.28" y="83.74" width="5.50" height="5.50" fill="none" stroke="#3e9a1c" stroke-width="1.0"/>
<rect x="216.09" y="87.07" width="5.50" height="5.50" fill="none" stroke="#3e9a1c" stroke-width="1.0"/>
<rect x="222.90" y="85.87" width="5.50" height="5.50" fill="none" stroke="#3e9a1c" stroke-width="1.0"/>
<rect x="229.71" y="83.98" width="5.50" height="5.50" fill="none" stroke="#3e9a1c" stroke-width="1.0"/>
<rect x="236.52" y="87.10" width="5.50" height="5.50" fill="none" stroke="#3e9a1c" stroke-width="1.0"/>
<rect x="246.65" y="90.88" width="5.50" height="5.50" fill="none" stroke="#3e9a1c" stroke-width="1.0"/>
<rect x="260.25" y="92.67" width="5.50" height="5.50" fill="none" stroke="#3e9a1c" stroke-width="1.0"/>
<rect x="273.85" y="100.07" width="5.50" height="5.50" fill="none" stroke="#3e9a1c" stroke-width="1.0"/>
<rect x="287.45" y="104.06" width="5.50" height="5.50" fill="none" stroke="#3e9a1c" stroke-width="1.0"/>
<rect x="301.05" y="112.55" width="5.50" height="5.50" fill="none" stroke="#3e9a1c" stroke-width="1.0"/>
<rect x="318.25" y="120.35" width="5.50" height="5.50" fill="none" stroke="#3e9a1c" stroke-width="1.0"/>
<rect x="345.75" y="132.95" width="5.50" height="5.50" fill="none" stroke="#3e9a1c" stroke-width="1.0"/>
<path d="M55.40,142.80 L58.20,148.30 L52.60,148.30Z" fill="#0000f0"/>
<path d="M62.21,135.80 L65.01,141.30 L59.41,141.30Z" fill="#0000f0"/>
<path d="M69.02,131.16 L71.82,136.66 L66.22,136.66Z" fill="#0000f0"/>
<path d="M75.83,124.87 L78.63,130.37 L73.03,130.37Z" fill="#0000f0"/>
<path d="M82.64,122.62 L85.44,128.12 L79.84,128.12Z" fill="#0000f0"/>
<path d="M89.45,115.17 L92.25,120.67 L86.65,120.67Z" fill="#0000f0"/>
<path d="M96.26,109.33 L99.06,114.83 L93.46,114.83Z" fill="#0000f0"/>
<path d="M103.07,106.75 L105.87,112.25 L100.27,112.25Z" fill="#0000f0"/>
<path d="M109.88,101.69 L112.68,107.19 L107.08,107.19Z" fill="#0000f0"/>
<path d="M116.69,101.30 L119.49,106.80 L113.89,106.80Z" fill="#0000f0"/>
<path d="M123.50,96.45 L126.30,101.95 L120.70,101.95Z" fill="#0000f0"/>
<path d="M130.31,96.59 L133.11,102.09 L127.51,102.09Z" fill="#0000f0"/>
<path d="M137.12,91.43 L139.92,96.93 L134.32,96.93Z" fill="#0000f0"/>
<path d="M143.93,91.04 L146.73,96.54 L141.13,96.54Z" fill="#0000f0"/>
<path d="M150.74,88.91 L153.54,94.41 L147.94,94.41Z" fill="#0000f0"/>
<path d="M157.55,89.67 L160.35,95.17 L154.75,95.17Z" fill="#0000f0"/>
<path d="M164.36,88.54 L167.16,94.04 L161.56,94.04Z" fill="#0000f0"/>
<path d="M171.17,83.43 L173.97,88.93 L168.37,88.93Z" fill="#0000f0"/>
<path d="M177.98,84.12 L180.78,89.62 L175.18,89.62Z" fill="#0000f0"/>
<path d="M184.79,80.66 L187.59,86.16 L181.99,86.16Z" fill="#0000f0"/>
<path d="M191.60,83.41 L194.40,88.91 L188.80,88.91Z" fill="#0000f0"/>
<path d="M198.41,82.51 L201.21,88.01 L195.61,88.01Z" fill="#0000f0"/>
<path d="M205.22,83.68 L208.02,89.18 L202.42,89.18Z" fill="#0000f0"/>
<path d="M212.03,81.46 L214.83,86.96 L209.23,86.96Z" fill="#0000f0"/>
<path d="M218.84,85.89 L221.64,91.39 L216.04,91.39Z" fill="#0000f0"/>
<path d="M225.65,83.36 L228.45,88.86 L222.85,88.86Z" fill="#0000f0"/>
<path d="M232.46,81.32 L235.26,86.82 L229.66,86.82Z" fill="#0000f0"/>
<path d="M239.27,86.42 L242.07,91.92 L236.47,91.92Z" fill="#0000f0"/>
<path d="M249.40,85.88 L252.20,91.38 L246.60,91.38Z" fill="#0000f0"/>
<path d="M263.00,87.05 L265.80,92.55 L260.20,92.55Z" fill="#0000f0"/>
<path d="M276.60,90.63 L279.40,96.13 L273.80,96.13Z" fill="#0000f0"/>
<path d="M290.20,94.81 L293.00,100.31 L287.40,100.31Z" fill="#0000f0"/>
<path d="M303.80,98.27 L306.60,103.77 L301.00,103.77Z" fill="#0000f0"/>
<path d="M321.00,103.48 L323.80,108.98 L318.20,108.98Z" fill="#0000f0"/>
<path d="M348.50,113.17 L351.30,118.67 L345.70,118.67Z" fill="#0000f0"/>
<path d="M55.40,140.60 L58.40,134.90 L52.40,134.90Z" fill="#1a9abf"/>
<path d="M62.21,134.10 L65.21,128.40 L59.21,128.40Z" fill="#1a9abf"/>
<path d="M69.02,136.26 L72.02,130.56 L66.02,130.56Z" fill="#1a9abf"/>
<path d="M75.83,123.20 L78.83,117.50 L72.83,117.50Z" fill="#1a9abf"/>
<path d="M82.64,120.10 L85.64,114.40 L79.64,114.40Z" fill="#1a9abf"/>
<path d="M89.45,113.61 L92.45,107.91 L86.45,107.91Z" fill="#1a9abf"/>
<path d="M96.26,111.63 L99.26,105.93 L93.26,105.93Z" fill="#1a9abf"/>
<path d="M103.07,106.11 L106.07,100.41 L100.07,100.41Z" fill="#1a9abf"/>
<path d="M109.88,104.36 L112.88,98.66 L106.88,98.66Z" fill="#1a9abf"/>
<path d="M116.69,105.10 L119.69,99.40 L113.69,99.40Z" fill="#1a9abf"/>
<path d="M123.50,97.08 L126.50,91.38 L120.50,91.38Z" fill="#1a9abf"/>
<path d="M130.31,98.21 L133.31,92.51 L127.31,92.51Z" fill="#1a9abf"/>
<path d="M137.12,93.97 L140.12,88.27 L134.12,88.27Z" fill="#1a9abf"/>
<path d="M143.93,94.32 L146.93,88.62 L140.93,88.62Z" fill="#1a9abf"/>
<path d="M150.74,91.52 L153.74,85.82 L147.74,85.82Z" fill="#1a9abf"/>
<path d="M157.55,94.04 L160.55,88.34 L154.55,88.34Z" fill="#1a9abf"/>
<path d="M164.36,91.49 L167.36,85.79 L161.36,85.79Z" fill="#1a9abf"/>
<path d="M171.17,88.13 L174.17,82.43 L168.17,82.43Z" fill="#1a9abf"/>
<path d="M177.98,88.67 L180.98,82.97 L174.98,82.97Z" fill="#1a9abf"/>
<path d="M184.79,87.11 L187.79,81.41 L181.79,81.41Z" fill="#1a9abf"/>
<path d="M191.60,89.91 L194.60,84.21 L188.60,84.21Z" fill="#1a9abf"/>
<path d="M198.41,87.30 L201.41,81.60 L195.41,81.60Z" fill="#1a9abf"/>
<path d="M205.22,90.93 L208.22,85.23 L202.22,85.23Z" fill="#1a9abf"/>
<path d="M212.03,88.84 L215.03,83.14 L209.03,83.14Z" fill="#1a9abf"/>
<path d="M218.84,91.29 L221.84,85.59 L215.84,85.59Z" fill="#1a9abf"/>
<path d="M225.65,91.34 L228.65,85.64 L222.65,85.64Z" fill="#1a9abf"/>
<path d="M232.46,89.07 L235.46,83.37 L229.46,83.37Z" fill="#1a9abf"/>
<path d="M239.27,92.42 L242.27,86.72 L236.27,86.72Z" fill="#1a9abf"/>
<path d="M249.40,94.84 L252.40,89.14 L246.40,89.14Z" fill="#1a9abf"/>
<path d="M263.00,96.55 L266.00,90.85 L260.00,90.85Z" fill="#1a9abf"/>
<path d="M276.60,99.05 L279.60,93.35 L273.60,93.35Z" fill="#1a9abf"/>
<path d="M290.20,104.45 L293.20,98.75 L287.20,98.75Z" fill="#1a9abf"/>
<path d="M303.80,107.42 L306.80,101.72 L300.80,101.72Z" fill="#1a9abf"/>
<path d="M321.00,115.43 L324.00,109.73 L318.00,109.73Z" fill="#1a9abf"/>
<path d="M348.50,125.16 L351.50,119.46 L345.50,119.46Z" fill="#1a9abf"/>
<path d="M55.40,76.10 L57.50,79.30 L55.40,82.50 L53.30,79.30Z" fill="#ff0000"/>
<path d="M62.21,85.30 L64.31,88.50 L62.21,91.70 L60.11,88.50Z" fill="#ff0000"/>
<path d="M69.02,88.40 L71.12,91.60 L69.02,94.80 L66.92,91.60Z" fill="#ff0000"/>
<path d="M75.83,94.10 L77.93,97.30 L75.83,100.50 L73.73,97.30Z" fill="#ff0000"/>
<path d="M82.64,91.40 L84.74,94.60 L82.64,97.80 L80.54,94.60Z" fill="#ff0000"/>
<path d="M89.45,84.30 L91.55,87.50 L89.45,90.70 L87.35,87.50Z" fill="#ff0000"/>
<path d="M96.26,81.60 L98.36,84.80 L96.26,88.00 L94.16,84.80Z" fill="#ff0000"/>
<path d="M103.07,85.90 L105.17,89.10 L103.07,92.30 L100.97,89.10Z" fill="#ff0000"/>
<path d="M109.88,79.40 L111.98,82.60 L109.88,85.80 L107.78,82.60Z" fill="#ff0000"/>
<path d="M116.69,84.60 L118.79,87.80 L116.69,91.00 L114.59,87.80Z" fill="#ff0000"/>
<path d="M123.50,82.30 L125.60,85.50 L123.50,88.70 L121.40,85.50Z" fill="#ff0000"/>
<path d="M130.31,80.20 L132.41,83.40 L130.31,86.60 L128.21,83.40Z" fill="#ff0000"/>
<path d="M137.12,79.10 L139.22,82.30 L137.12,85.50 L135.02,82.30Z" fill="#ff0000"/>
<path d="M143.93,79.60 L146.03,82.80 L143.93,86.00 L141.83,82.80Z" fill="#ff0000"/>
<path d="M150.74,78.40 L152.84,81.60 L150.74,84.80 L148.64,81.60Z" fill="#ff0000"/>
<path d="M157.55,81.20 L159.65,84.40 L157.55,87.60 L155.45,84.40Z" fill="#ff0000"/>
<path d="M164.36,79.80 L166.46,83.00 L164.36,86.20 L162.26,83.00Z" fill="#ff0000"/>
<path d="M171.17,81.50 L173.27,84.70 L171.17,87.90 L169.07,84.70Z" fill="#ff0000"/>
<path d="M177.98,87.70 L180.08,90.90 L177.98,94.10 L175.88,90.90Z" fill="#ff0000"/>
<path d="M184.79,76.80 L186.89,80.00 L184.79,83.20 L182.69,80.00Z" fill="#ff0000"/>
<path d="M191.60,89.00 L193.70,92.20 L191.60,95.40 L189.50,92.20Z" fill="#ff0000"/>
<path d="M198.41,89.30 L200.51,92.50 L198.41,95.70 L196.31,92.50Z" fill="#ff0000"/>
<path d="M205.22,93.70 L207.32,96.90 L205.22,100.10 L203.12,96.90Z" fill="#ff0000"/>
<path d="M212.03,104.60 L214.13,107.80 L212.03,111.00 L209.93,107.80Z" fill="#ff0000"/>
<path d="M218.84,102.30 L220.94,105.50 L218.84,108.70 L216.74,105.50Z" fill="#ff0000"/>
<path d="M225.65,111.20 L227.75,114.40 L225.65,117.60 L223.55,114.40Z" fill="#ff0000"/>
<path d="M232.46,118.80 L234.56,122.00 L232.46,125.20 L230.36,122.00Z" fill="#ff0000"/>
<path d="M239.27,120.10 L241.37,123.30 L239.27,126.50 L237.17,123.30Z" fill="#ff0000"/>
<path d="M249.40,118.10 L251.50,121.30 L249.40,124.50 L247.30,121.30Z" fill="#ff0000"/>
<path d="M263.00,134.10 L265.10,137.30 L263.00,140.50 L260.90,137.30Z" fill="#ff0000"/>
<path d="M276.60,138.50 L278.70,141.70 L276.60,144.90 L274.50,141.70Z" fill="#ff0000"/>
<path d="M290.20,154.50 L292.30,157.70 L290.20,160.90 L288.10,157.70Z" fill="#ff0000"/>
<path d="M303.80,149.90 L305.90,153.10 L303.80,156.30 L301.70,153.10Z" fill="#ff0000"/>
<line x1="55.40" y1="148.00" x2="55.40" y2="156.50" stroke="#b05a10" stroke-width="0.9"/>
<line x1="53.80" y1="148.00" x2="57.00" y2="148.00" stroke="#b05a10" stroke-width="0.9"/>
<line x1="53.80" y1="156.50" x2="57.00" y2="156.50" stroke="#b05a10" stroke-width="0.9"/>
<line x1="62.21" y1="144.70" x2="62.21" y2="153.20" stroke="#b05a10" stroke-width="0.9"/>
<line x1="60.61" y1="144.70" x2="63.81" y2="144.70" stroke="#b05a10" stroke-width="0.9"/>
<line x1="60.61" y1="153.20" x2="63.81" y2="153.20" stroke="#b05a10" stroke-width="0.9"/>
<line x1="55.40" y1="76.10" x2="55.40" y2="82.50" stroke="#ff0000" stroke-width="0.8" stroke-dasharray="1,1"/>
<line x1="62.21" y1="85.30" x2="62.21" y2="91.70" stroke="#ff0000" stroke-width="0.8" stroke-dasharray="1,1"/>
<line x1="69.02" y1="88.40" x2="69.02" y2="94.80" stroke="#ff0000" stroke-width="0.8" stroke-dasharray="1,1"/>
<line x1="75.83" y1="94.10" x2="75.83" y2="100.50" stroke="#ff0000" stroke-width="0.8" stroke-dasharray="1,1"/>
<line x1="82.64" y1="91.40" x2="82.64" y2="97.80" stroke="#ff0000" stroke-width="0.8" stroke-dasharray="1,1"/>
<line x1="89.45" y1="84.30" x2="89.45" y2="90.70" stroke="#ff0000" stroke-width="0.8" stroke-dasharray="1,1"/>
<line x1="96.26" y1="81.60" x2="96.26" y2="88.00" stroke="#ff0000" stroke-width="0.8" stroke-dasharray="1,1"/>
<line x1="103.07" y1="85.90" x2="103.07" y2="92.30" stroke="#ff0000" stroke-width="0.8" stroke-dasharray="1,1"/>
<line x1="109.88" y1="79.40" x2="109.88" y2="85.80" stroke="#ff0000" stroke-width="0.8" stroke-dasharray="1,1"/>
<line x1="116.69" y1="84.60" x2="116.69" y2="91.00" stroke="#ff0000" stroke-width="0.8" stroke-dasharray="1,1"/>
<line x1="123.50" y1="82.30" x2="123.50" y2="88.70" stroke="#ff0000" stroke-width="0.8" stroke-dasharray="1,1"/>
<line x1="130.31" y1="80.20" x2="130.31" y2="86.60" stroke="#ff0000" stroke-width="0.8" stroke-dasharray="1,1"/>
<line x1="137.12" y1="79.10" x2="137.12" y2="85.50" stroke="#ff0000" stroke-width="0.8" stroke-dasharray="1,1"/>
<line x1="143.93" y1="79.60" x2="143.93" y2="86.00" stroke="#ff0000" stroke-width="0.8" stroke-dasharray="1,1"/>
<line x1="150.74" y1="78.40" x2="150.74" y2="84.80" stroke="#ff0000" stroke-width="0.8" stroke-dasharray="1,1"/>
<line x1="157.55" y1="81.20" x2="157.55" y2="87.60" stroke="#ff0000" stroke-width="0.8" stroke-dasharray="1,1"/>
<line x1="164.36" y1="79.80" x2="164.36" y2="86.20" stroke="#ff0000" stroke-width="0.8" stroke-dasharray="1,1"/>
<line x1="171.17" y1="81.50" x2="171.17" y2="87.90" stroke="#ff0000" stroke-width="0.8" stroke-dasharray="1,1"/>
<line x1="177.98" y1="87.70" x2="177.98" y2="94.10" stroke="#ff0000" stroke-width="0.8" stroke-dasharray="1,1"/>
<line x1="184.79" y1="76.80" x2="184.79" y2="83.20" stroke="#ff0000" stroke-width="0.8" stroke-dasharray="1,1"/>
<line x1="191.60" y1="89.00" x2="191.60" y2="95.40" stroke="#ff0000" stroke-width="0.8" stroke-dasharray="1,1"/>
<line x1="198.41" y1="89.30" x2="198.41" y2="95.70" stroke="#ff0000" stroke-width="0.8" stroke-dasharray="1,1"/>
<line x1="205.22" y1="93.70" x2="205.22" y2="100.10" stroke="#ff0000" stroke-width="0.8" stroke-dasharray="1,1"/>
<line x1="212.03" y1="102.80" x2="212.03" y2="112.80" stroke="#ff0000" stroke-width="0.8" stroke-dasharray="1,1"/>
<line x1="218.84" y1="99.10" x2="218.84" y2="111.90" stroke="#ff0000" stroke-width="0.8" stroke-dasharray="1,1"/>
<line x1="225.65" y1="105.40" x2="225.65" y2="123.40" stroke="#ff0000" stroke-width="0.8" stroke-dasharray="1,1"/>
<line x1="232.46" y1="113.00" x2="232.46" y2="131.00" stroke="#ff0000" stroke-width="0.8" stroke-dasharray="1,1"/>
<line x1="239.27" y1="111.30" x2="239.27" y2="135.30" stroke="#ff0000" stroke-width="0.8" stroke-dasharray="1,1"/>
<line x1="249.40" y1="115.30" x2="249.40" y2="127.30" stroke="#ff0000" stroke-width="0.8" stroke-dasharray="1,1"/>
<line x1="263.00" y1="129.40" x2="263.00" y2="150.60" stroke="#ff0000" stroke-width="0.8" stroke-dasharray="1,1"/>
<line x1="276.60" y1="131.25" x2="276.60" y2="330.00" stroke="#ff0000" stroke-width="0.8" stroke-dasharray="1,1"/>
<line x1="290.20" y1="146.90" x2="290.20" y2="330.00" stroke="#ff0000" stroke-width="0.8" stroke-dasharray="1,1"/>
<line x1="303.80" y1="141.25" x2="303.80" y2="330.00" stroke="#ff0000" stroke-width="0.8" stroke-dasharray="1,1"/>
</g>
<rect x="73.70" y="208.10" width="5.4" height="5.4" fill="#000"/>
<text x="94.0" y="214.10" font-size="9.35">ATLAS</text>
<line x1="64" y1="223.90" x2="88" y2="223.90" stroke="#b05a10" stroke-width="1" stroke-dasharray="2,1.6"/>
<circle cx="76.40" cy="223.90" r="2.50" fill="none" stroke="#b05a10" stroke-width="1.0"/>
<text x="93.8" y="227.20" font-size="9.35">Herwig++ 2.7.1 default</text>
<line x1="64" y1="236.90" x2="88" y2="236.90" stroke="#3e9a1c" stroke-width="1" stroke-dasharray="2,1.6"/>
<rect x="73.65" y="234.15" width="5.50" height="5.50" fill="none" stroke="#3e9a1c" stroke-width="1.0"/>
<text x="93.8" y="240.20" font-size="9.35">Herwig 7.2.1 default</text>
<line x1="64" y1="250.10" x2="88" y2="250.10" stroke="#0000f0" stroke-width="1.1"/>
<path d="M76.40,246.90 L79.20,252.40 L73.60,252.40Z" fill="#0000f0"/>
<text x="93.8" y="253.40" font-size="9.35">Pythia 8.315 default</text>
<line x1="64" y1="263.10" x2="88" y2="263.10" stroke="#1a9abf" stroke-width="1" stroke-dasharray="3,1.5,1,1.5"/>
<path d="M76.40,266.40 L79.40,260.70 L73.40,260.70Z" fill="#1a9abf"/>
<text x="93.8" y="266.40" font-size="9.35">Pythia 8.315 vincia-default</text>
<line x1="64" y1="276.00" x2="88" y2="276.00" stroke="#ff0000" stroke-width="0.8" stroke-dasharray="1,1"/>
<path d="M76.40,272.80 L78.50,276.00 L76.40,279.20 L74.30,276.00Z" fill="#ff0000"/>
<text x="93.8" y="279.30" font-size="9.35">Sherpa 1.4.5 default</text>
<line x1="48.27" y1="17.50" x2="48.27" y2="21.50" stroke="#000" stroke-width="0.75" />
<line x1="48.27" y1="317.30" x2="48.27" y2="313.80" stroke="#000" stroke-width="1" />
<line x1="48.27" y1="317.30" x2="48.27" y2="319.80" stroke="#000" stroke-width="1" />
<line x1="48.27" y1="477.80" x2="48.27" y2="475.60" stroke="#000" stroke-width="1" />
<line x1="55.40" y1="17.50" x2="55.40" y2="26.00" stroke="#000" stroke-width="1" />
<line x1="55.40" y1="317.30" x2="55.40" y2="309.30" stroke="#000" stroke-width="1" />
<line x1="55.40" y1="317.30" x2="55.40" y2="322.80" stroke="#000" stroke-width="1" />
<line x1="55.40" y1="477.80" x2="55.40" y2="473.00" stroke="#000" stroke-width="1" />
<line x1="62.53" y1="17.50" x2="62.53" y2="21.50" stroke="#000" stroke-width="0.75" />
<line x1="62.53" y1="317.30" x2="62.53" y2="313.80" stroke="#000" stroke-width="1" />
<line x1="62.53" y1="317.30" x2="62.53" y2="319.80" stroke="#000" stroke-width="1" />
<line x1="62.53" y1="477.80" x2="62.53" y2="475.60" stroke="#000" stroke-width="1" />
<line x1="69.66" y1="17.50" x2="69.66" y2="21.50" stroke="#000" stroke-width="0.75" />
<line x1="69.66" y1="317.30" x2="69.66" y2="313.80" stroke="#000" stroke-width="1" />
<line x1="69.66" y1="317.30" x2="69.66" y2="319.80" stroke="#000" stroke-width="1" />
<line x1="69.66" y1="477.80" x2="69.66" y2="475.60" stroke="#000" stroke-width="1" />
<line x1="76.79" y1="17.50" x2="76.79" y2="21.50" stroke="#000" stroke-width="0.75" />
<line x1="76.79" y1="317.30" x2="76.79" y2="313.80" stroke="#000" stroke-width="1" />
<line x1="76.79" y1="317.30" x2="76.79" y2="319.80" stroke="#000" stroke-width="1" />
<line x1="76.79" y1="477.80" x2="76.79" y2="475.60" stroke="#000" stroke-width="1" />
<line x1="83.92" y1="17.50" x2="83.92" y2="21.50" stroke="#000" stroke-width="0.75" />
<line x1="83.92" y1="317.30" x2="83.92" y2="313.80" stroke="#000" stroke-width="1" />
<line x1="83.92" y1="317.30" x2="83.92" y2="319.80" stroke="#000" stroke-width="1" />
<line x1="83.92" y1="477.80" x2="83.92" y2="475.60" stroke="#000" stroke-width="1" />
<line x1="91.05" y1="17.50" x2="91.05" y2="21.50" stroke="#000" stroke-width="0.75" />
<line x1="91.05" y1="317.30" x2="91.05" y2="313.80" stroke="#000" stroke-width="1" />
<line x1="91.05" y1="317.30" x2="91.05" y2="319.80" stroke="#000" stroke-width="1" />
<line x1="91.05" y1="477.80" x2="91.05" y2="475.60" stroke="#000" stroke-width="1" />
<line x1="98.18" y1="17.50" x2="98.18" y2="21.50" stroke="#000" stroke-width="0.75" />
<line x1="98.18" y1="317.30" x2="98.18" y2="313.80" stroke="#000" stroke-width="1" />
<line x1="98.18" y1="317.30" x2="98.18" y2="319.80" stroke="#000" stroke-width="1" />
<line x1="98.18" y1="477.80" x2="98.18" y2="475.60" stroke="#000" stroke-width="1" />
<line x1="105.31" y1="17.50" x2="105.31" y2="21.50" stroke="#000" stroke-width="0.75" />
<line x1="105.31" y1="317.30" x2="105.31" y2="313.80" stroke="#000" stroke-width="1" />
<line x1="105.31" y1="317.30" x2="105.31" y2="319.80" stroke="#000" stroke-width="1" />
<line x1="105.31" y1="477.80" x2="105.31" y2="475.60" stroke="#000" stroke-width="1" />
<line x1="112.44" y1="17.50" x2="112.44" y2="21.50" stroke="#000" stroke-width="0.75" />
<line x1="112.44" y1="317.30" x2="112.44" y2="313.80" stroke="#000" stroke-width="1" />
<line x1="112.44" y1="317.30" x2="112.44" y2="319.80" stroke="#000" stroke-width="1" />
<line x1="112.44" y1="477.80" x2="112.44" y2="475.60" stroke="#000" stroke-width="1" />
<line x1="119.57" y1="17.50" x2="119.57" y2="21.50" stroke="#000" stroke-width="0.75" />
<line x1="119.57" y1="317.30" x2="119.57" y2="313.80" stroke="#000" stroke-width="1" />
<line x1="119.57" y1="317.30" x2="119.57" y2="319.80" stroke="#000" stroke-width="1" />
<line x1="119.57" y1="477.80" x2="119.57" y2="475.60" stroke="#000" stroke-width="1" />
<line x1="126.70" y1="17.50" x2="126.70" y2="26.00" stroke="#000" stroke-width="1" />
<line x1="126.70" y1="317.30" x2="126.70" y2="309.30" stroke="#000" stroke-width="1" />
<line x1="126.70" y1="317.30" x2="126.70" y2="322.80" stroke="#000" stroke-width="1" />
<line x1="126.70" y1="477.80" x2="126.70" y2="473.00" stroke="#000" stroke-width="1" />
<line x1="133.83" y1="17.50" x2="133.83" y2="21.50" stroke="#000" stroke-width="0.75" />
<line x1="133.83" y1="317.30" x2="133.83" y2="313.80" stroke="#000" stroke-width="1" />
<line x1="133.83" y1="317.30" x2="133.83" y2="319.80" stroke="#000" stroke-width="1" />
<line x1="133.83" y1="477.80" x2="133.83" y2="475.60" stroke="#000" stroke-width="1" />
<line x1="140.96" y1="17.50" x2="140.96" y2="21.50" stroke="#000" stroke-width="0.75" />
<line x1="140.96" y1="317.30" x2="140.96" y2="313.80" stroke="#000" stroke-width="1" />
<line x1="140.96" y1="317.30" x2="140.96" y2="319.80" stroke="#000" stroke-width="1" />
<line x1="140.96" y1="477.80" x2="140.96" y2="475.60" stroke="#000" stroke-width="1" />
<line x1="148.09" y1="17.50" x2="148.09" y2="21.50" stroke="#000" stroke-width="0.75" />
<line x1="148.09" y1="317.30" x2="148.09" y2="313.80" stroke="#000" stroke-width="1" />
<line x1="148.09" y1="317.30" x2="148.09" y2="319.80" stroke="#000" stroke-width="1" />
<line x1="148.09" y1="477.80" x2="148.09" y2="475.60" stroke="#000" stroke-width="1" />
<line x1="155.22" y1="17.50" x2="155.22" y2="21.50" stroke="#000" stroke-width="0.75" />
<line x1="155.22" y1="317.30" x2="155.22" y2="313.80" stroke="#000" stroke-width="1" />
<line x1="155.22" y1="317.30" x2="155.22" y2="319.80" stroke="#000" stroke-width="1" />
<line x1="155.22" y1="477.80" x2="155.22" y2="475.60" stroke="#000" stroke-width="1" />
<line x1="162.35" y1="17.50" x2="162.35" y2="21.50" stroke="#000" stroke-width="0.75" />
<line x1="162.35" y1="317.30" x2="162.35" y2="313.80" stroke="#000" stroke-width="1" />
<line x1="162.35" y1="317.30" x2="162.35" y2="319.80" stroke="#000" stroke-width="1" />
<line x1="162.35" y1="477.80" x2="162.35" y2="475.60" stroke="#000" stroke-width="1" />
<line x1="169.48" y1="17.50" x2="169.48" y2="21.50" stroke="#000" stroke-width="0.75" />
<line x1="169.48" y1="317.30" x2="169.48" y2="313.80" stroke="#000" stroke-width="1" />
<line x1="169.48" y1="317.30" x2="169.48" y2="319.80" stroke="#000" stroke-width="1" />
<line x1="169.48" y1="477.80" x2="169.48" y2="475.60" stroke="#000" stroke-width="1" />
<line x1="176.61" y1="17.50" x2="176.61" y2="21.50" stroke="#000" stroke-width="0.75" />
<line x1="176.61" y1="317.30" x2="176.61" y2="313.80" stroke="#000" stroke-width="1" />
<line x1="176.61" y1="317.30" x2="176.61" y2="319.80" stroke="#000" stroke-width="1" />
<line x1="176.61" y1="477.80" x2="176.61" y2="475.60" stroke="#000" stroke-width="1" />
<line x1="183.74" y1="17.50" x2="183.74" y2="21.50" stroke="#000" stroke-width="0.75" />
<line x1="183.74" y1="317.30" x2="183.74" y2="313.80" stroke="#000" stroke-width="1" />
<line x1="183.74" y1="317.30" x2="183.74" y2="319.80" stroke="#000" stroke-width="1" />
<line x1="183.74" y1="477.80" x2="183.74" y2="475.60" stroke="#000" stroke-width="1" />
<line x1="190.87" y1="17.50" x2="190.87" y2="21.50" stroke="#000" stroke-width="0.75" />
<line x1="190.87" y1="317.30" x2="190.87" y2="313.80" stroke="#000" stroke-width="1" />
<line x1="190.87" y1="317.30" x2="190.87" y2="319.80" stroke="#000" stroke-width="1" />
<line x1="190.87" y1="477.80" x2="190.87" y2="475.60" stroke="#000" stroke-width="1" />
<line x1="198.00" y1="17.50" x2="198.00" y2="26.00" stroke="#000" stroke-width="1" />
<line x1="198.00" y1="317.30" x2="198.00" y2="309.30" stroke="#000" stroke-width="1" />
<line x1="198.00" y1="317.30" x2="198.00" y2="322.80" stroke="#000" stroke-width="1" />
<line x1="198.00" y1="477.80" x2="198.00" y2="473.00" stroke="#000" stroke-width="1" />
<line x1="205.13" y1="17.50" x2="205.13" y2="21.50" stroke="#000" stroke-width="0.75" />
<line x1="205.13" y1="317.30" x2="205.13" y2="313.80" stroke="#000" stroke-width="1" />
<line x1="205.13" y1="317.30" x2="205.13" y2="319.80" stroke="#000" stroke-width="1" />
<line x1="205.13" y1="477.80" x2="205.13" y2="475.60" stroke="#000" stroke-width="1" />
<line x1="212.26" y1="17.50" x2="212.26" y2="21.50" stroke="#000" stroke-width="0.75" />
<line x1="212.26" y1="317.30" x2="212.26" y2="313.80" stroke="#000" stroke-width="1" />
<line x1="212.26" y1="317.30" x2="212.26" y2="319.80" stroke="#000" stroke-width="1" />
<line x1="212.26" y1="477.80" x2="212.26" y2="475.60" stroke="#000" stroke-width="1" />
<line x1="219.39" y1="17.50" x2="219.39" y2="21.50" stroke="#000" stroke-width="0.75" />
<line x1="219.39" y1="317.30" x2="219.39" y2="313.80" stroke="#000" stroke-width="1" />
<line x1="219.39" y1="317.30" x2="219.39" y2="319.80" stroke="#000" stroke-width="1" />
<line x1="219.39" y1="477.80" x2="219.39" y2="475.60" stroke="#000" stroke-width="1" />
<line x1="226.52" y1="17.50" x2="226.52" y2="21.50" stroke="#000" stroke-width="0.75" />
<line x1="226.52" y1="317.30" x2="226.52" y2="313.80" stroke="#000" stroke-width="1" />
<line x1="226.52" y1="317.30" x2="226.52" y2="319.80" stroke="#000" stroke-width="1" />
<line x1="226.52" y1="477.80" x2="226.52" y2="475.60" stroke="#000" stroke-width="1" />
<line x1="233.65" y1="17.50" x2="233.65" y2="21.50" stroke="#000" stroke-width="0.75" />
<line x1="233.65" y1="317.30" x2="233.65" y2="313.80" stroke="#000" stroke-width="1" />
<line x1="233.65" y1="317.30" x2="233.65" y2="319.80" stroke="#000" stroke-width="1" />
<line x1="233.65" y1="477.80" x2="233.65" y2="475.60" stroke="#000" stroke-width="1" />
<line x1="240.78" y1="17.50" x2="240.78" y2="21.50" stroke="#000" stroke-width="0.75" />
<line x1="240.78" y1="317.30" x2="240.78" y2="313.80" stroke="#000" stroke-width="1" />
<line x1="240.78" y1="317.30" x2="240.78" y2="319.80" stroke="#000" stroke-width="1" />
<line x1="240.78" y1="477.80" x2="240.78" y2="475.60" stroke="#000" stroke-width="1" />
<line x1="247.91" y1="17.50" x2="247.91" y2="21.50" stroke="#000" stroke-width="0.75" />
<line x1="247.91" y1="317.30" x2="247.91" y2="313.80" stroke="#000" stroke-width="1" />
<line x1="247.91" y1="317.30" x2="247.91" y2="319.80" stroke="#000" stroke-width="1" />
<line x1="247.91" y1="477.80" x2="247.91" y2="475.60" stroke="#000" stroke-width="1" />
<line x1="255.04" y1="17.50" x2="255.04" y2="21.50" stroke="#000" stroke-width="0.75" />
<line x1="255.04" y1="317.30" x2="255.04" y2="313.80" stroke="#000" stroke-width="1" />
<line x1="255.04" y1="317.30" x2="255.04" y2="319.80" stroke="#000" stroke-width="1" />
<line x1="255.04" y1="477.80" x2="255.04" y2="475.60" stroke="#000" stroke-width="1" />
<line x1="262.17" y1="17.50" x2="262.17" y2="21.50" stroke="#000" stroke-width="0.75" />
<line x1="262.17" y1="317.30" x2="262.17" y2="313.80" stroke="#000" stroke-width="1" />
<line x1="262.17" y1="317.30" x2="262.17" y2="319.80" stroke="#000" stroke-width="1" />
<line x1="262.17" y1="477.80" x2="262.17" y2="475.60" stroke="#000" stroke-width="1" />
<line x1="269.30" y1="17.50" x2="269.30" y2="26.00" stroke="#000" stroke-width="1" />
<line x1="269.30" y1="317.30" x2="269.30" y2="309.30" stroke="#000" stroke-width="1" />
<line x1="269.30" y1="317.30" x2="269.30" y2="322.80" stroke="#000" stroke-width="1" />
<line x1="269.30" y1="477.80" x2="269.30" y2="473.00" stroke="#000" stroke-width="1" />
<line x1="276.43" y1="17.50" x2="276.43" y2="21.50" stroke="#000" stroke-width="0.75" />
<line x1="276.43" y1="317.30" x2="276.43" y2="313.80" stroke="#000" stroke-width="1" />
<line x1="276.43" y1="317.30" x2="276.43" y2="319.80" stroke="#000" stroke-width="1" />
<line x1="276.43" y1="477.80" x2="276.43" y2="475.60" stroke="#000" stroke-width="1" />
<line x1="283.56" y1="17.50" x2="283.56" y2="21.50" stroke="#000" stroke-width="0.75" />
<line x1="283.56" y1="317.30" x2="283.56" y2="313.80" stroke="#000" stroke-width="1" />
<line x1="283.56" y1="317.30" x2="283.56" y2="319.80" stroke="#000" stroke-width="1" />
<line x1="283.56" y1="477.80" x2="283.56" y2="475.60" stroke="#000" stroke-width="1" />
<line x1="290.69" y1="17.50" x2="290.69" y2="21.50" stroke="#000" stroke-width="0.75" />
<line x1="290.69" y1="317.30" x2="290.69" y2="313.80" stroke="#000" stroke-width="1" />
<line x1="290.69" y1="317.30" x2="290.69" y2="319.80" stroke="#000" stroke-width="1" />
<line x1="290.69" y1="477.80" x2="290.69" y2="475.60" stroke="#000" stroke-width="1" />
<line x1="297.82" y1="17.50" x2="297.82" y2="21.50" stroke="#000" stroke-width="0.75" />
<line x1="297.82" y1="317.30" x2="297.82" y2="313.80" stroke="#000" stroke-width="1" />
<line x1="297.82" y1="317.30" x2="297.82" y2="319.80" stroke="#000" stroke-width="1" />
<line x1="297.82" y1="477.80" x2="297.82" y2="475.60" stroke="#000" stroke-width="1" />
<line x1="304.95" y1="17.50" x2="304.95" y2="21.50" stroke="#000" stroke-width="0.75" />
<line x1="304.95" y1="317.30" x2="304.95" y2="313.80" stroke="#000" stroke-width="1" />
<line x1="304.95" y1="317.30" x2="304.95" y2="319.80" stroke="#000" stroke-width="1" />
<line x1="304.95" y1="477.80" x2="304.95" y2="475.60" stroke="#000" stroke-width="1" />
<line x1="312.08" y1="17.50" x2="312.08" y2="21.50" stroke="#000" stroke-width="0.75" />
<line x1="312.08" y1="317.30" x2="312.08" y2="313.80" stroke="#000" stroke-width="1" />
<line x1="312.08" y1="317.30" x2="312.08" y2="319.80" stroke="#000" stroke-width="1" />
<line x1="312.08" y1="477.80" x2="312.08" y2="475.60" stroke="#000" stroke-width="1" />
<line x1="319.21" y1="17.50" x2="319.21" y2="21.50" stroke="#000" stroke-width="0.75" />
<line x1="319.21" y1="317.30" x2="319.21" y2="313.80" stroke="#000" stroke-width="1" />
<line x1="319.21" y1="317.30" x2="319.21" y2="319.80" stroke="#000" stroke-width="1" />
<line x1="319.21" y1="477.80" x2="319.21" y2="475.60" stroke="#000" stroke-width="1" />
<line x1="326.34" y1="17.50" x2="326.34" y2="21.50" stroke="#000" stroke-width="0.75" />
<line x1="326.34" y1="317.30" x2="326.34" y2="313.80" stroke="#000" stroke-width="1" />
<line x1="326.34" y1="317.30" x2="326.34" y2="319.80" stroke="#000" stroke-width="1" />
<line x1="326.34" y1="477.80" x2="326.34" y2="475.60" stroke="#000" stroke-width="1" />
<line x1="333.47" y1="17.50" x2="333.47" y2="21.50" stroke="#000" stroke-width="0.75" />
<line x1="333.47" y1="317.30" x2="333.47" y2="313.80" stroke="#000" stroke-width="1" />
<line x1="333.47" y1="317.30" x2="333.47" y2="319.80" stroke="#000" stroke-width="1" />
<line x1="333.47" y1="477.80" x2="333.47" y2="475.60" stroke="#000" stroke-width="1" />
<line x1="340.60" y1="17.50" x2="340.60" y2="26.00" stroke="#000" stroke-width="1" />
<line x1="340.60" y1="317.30" x2="340.60" y2="309.30" stroke="#000" stroke-width="1" />
<line x1="340.60" y1="317.30" x2="340.60" y2="322.80" stroke="#000" stroke-width="1" />
<line x1="340.60" y1="477.80" x2="340.60" y2="473.00" stroke="#000" stroke-width="1" />
<line x1="347.73" y1="17.50" x2="347.73" y2="21.50" stroke="#000" stroke-width="0.75" />
<line x1="347.73" y1="317.30" x2="347.73" y2="313.80" stroke="#000" stroke-width="1" />
<line x1="347.73" y1="317.30" x2="347.73" y2="319.80" stroke="#000" stroke-width="1" />
<line x1="347.73" y1="477.80" x2="347.73" y2="475.60" stroke="#000" stroke-width="1" />
<line x1="354.86" y1="17.50" x2="354.86" y2="21.50" stroke="#000" stroke-width="0.75" />
<line x1="354.86" y1="317.30" x2="354.86" y2="313.80" stroke="#000" stroke-width="1" />
<line x1="354.86" y1="317.30" x2="354.86" y2="319.80" stroke="#000" stroke-width="1" />
<line x1="354.86" y1="477.80" x2="354.86" y2="475.60" stroke="#000" stroke-width="1" />
<line x1="361.99" y1="17.50" x2="361.99" y2="21.50" stroke="#000" stroke-width="0.75" />
<line x1="361.99" y1="317.30" x2="361.99" y2="313.80" stroke="#000" stroke-width="1" />
<line x1="361.99" y1="317.30" x2="361.99" y2="319.80" stroke="#000" stroke-width="1" />
<line x1="361.99" y1="477.80" x2="361.99" y2="475.60" stroke="#000" stroke-width="1" />
<line x1="369.12" y1="17.50" x2="369.12" y2="21.50" stroke="#000" stroke-width="0.75" />
<line x1="369.12" y1="317.30" x2="369.12" y2="313.80" stroke="#000" stroke-width="1" />
<line x1="369.12" y1="317.30" x2="369.12" y2="319.80" stroke="#000" stroke-width="1" />
<line x1="369.12" y1="477.80" x2="369.12" y2="475.60" stroke="#000" stroke-width="1" />
<line x1="45.50" y1="309.60" x2="51.20" y2="309.60" stroke="#000" stroke-width="1" />
<line x1="371.30" y1="309.60" x2="365.60" y2="309.60" stroke="#000" stroke-width="1" />
<line x1="45.50" y1="303.41" x2="51.20" y2="303.41" stroke="#000" stroke-width="1" />
<line x1="371.30" y1="303.41" x2="365.60" y2="303.41" stroke="#000" stroke-width="1" />
<line x1="45.50" y1="299.01" x2="51.20" y2="299.01" stroke="#000" stroke-width="1" />
<line x1="371.30" y1="299.01" x2="365.60" y2="299.01" stroke="#000" stroke-width="1" />
<line x1="45.50" y1="295.60" x2="51.20" y2="295.60" stroke="#000" stroke-width="1" />
<line x1="371.30" y1="295.60" x2="365.60" y2="295.60" stroke="#000" stroke-width="1" />
<line x1="45.50" y1="292.81" x2="51.20" y2="292.81" stroke="#000" stroke-width="1" />
<line x1="371.30" y1="292.81" x2="365.60" y2="292.81" stroke="#000" stroke-width="1" />
<line x1="45.50" y1="290.45" x2="51.20" y2="290.45" stroke="#000" stroke-width="1" />
<line x1="371.30" y1="290.45" x2="365.60" y2="290.45" stroke="#000" stroke-width="1" />
<line x1="45.50" y1="288.41" x2="51.20" y2="288.41" stroke="#000" stroke-width="1" />
<line x1="371.30" y1="288.41" x2="365.60" y2="288.41" stroke="#000" stroke-width="1" />
<line x1="45.50" y1="286.61" x2="51.20" y2="286.61" stroke="#000" stroke-width="1" />
<line x1="371.30" y1="286.61" x2="365.60" y2="286.61" stroke="#000" stroke-width="1" />
<line x1="45.50" y1="285.00" x2="57.00" y2="285.00" stroke="#000" stroke-width="1" />
<line x1="371.30" y1="285.00" x2="359.80" y2="285.00" stroke="#000" stroke-width="1" />
<line x1="45.50" y1="274.40" x2="51.20" y2="274.40" stroke="#000" stroke-width="1" />
<line x1="371.30" y1="274.40" x2="365.60" y2="274.40" stroke="#000" stroke-width="1" />
<line x1="45.50" y1="268.21" x2="51.20" y2="268.21" stroke="#000" stroke-width="1" />
<line x1="371.30" y1="268.21" x2="365.60" y2="268.21" stroke="#000" stroke-width="1" />
<line x1="45.50" y1="263.81" x2="51.20" y2="263.81" stroke="#000" stroke-width="1" />
<line x1="371.30" y1="263.81" x2="365.60" y2="263.81" stroke="#000" stroke-width="1" />
<line x1="45.50" y1="260.40" x2="51.20" y2="260.40" stroke="#000" stroke-width="1" />
<line x1="371.30" y1="260.40" x2="365.60" y2="260.40" stroke="#000" stroke-width="1" />
<line x1="45.50" y1="257.61" x2="51.20" y2="257.61" stroke="#000" stroke-width="1" />
<line x1="371.30" y1="257.61" x2="365.60" y2="257.61" stroke="#000" stroke-width="1" />
<line x1="45.50" y1="255.25" x2="51.20" y2="255.25" stroke="#000" stroke-width="1" />
<line x1="371.30" y1="255.25" x2="365.60" y2="255.25" stroke="#000" stroke-width="1" />
<line x1="45.50" y1="253.21" x2="51.20" y2="253.21" stroke="#000" stroke-width="1" />
<line x1="371.30" y1="253.21" x2="365.60" y2="253.21" stroke="#000" stroke-width="1" />
<line x1="45.50" y1="251.41" x2="51.20" y2="251.41" stroke="#000" stroke-width="1" />
<line x1="371.30" y1="251.41" x2="365.60" y2="251.41" stroke="#000" stroke-width="1" />
<line x1="45.50" y1="249.80" x2="57.00" y2="249.80" stroke="#000" stroke-width="1" />
<line x1="371.30" y1="249.80" x2="359.80" y2="249.80" stroke="#000" stroke-width="1" />
<line x1="45.50" y1="239.20" x2="51.20" y2="239.20" stroke="#000" stroke-width="1" />
<line x1="371.30" y1="239.20" x2="365.60" y2="239.20" stroke="#000" stroke-width="1" />
<line x1="45.50" y1="233.01" x2="51.20" y2="233.01" stroke="#000" stroke-width="1" />
<line x1="371.30" y1="233.01" x2="365.60" y2="233.01" stroke="#000" stroke-width="1" />
<line x1="45.50" y1="228.61" x2="51.20" y2="228.61" stroke="#000" stroke-width="1" />
<line x1="371.30" y1="228.61" x2="365.60" y2="228.61" stroke="#000" stroke-width="1" />
<line x1="45.50" y1="225.20" x2="51.20" y2="225.20" stroke="#000" stroke-width="1" />
<line x1="371.30" y1="225.20" x2="365.60" y2="225.20" stroke="#000" stroke-width="1" />
<line x1="45.50" y1="222.41" x2="51.20" y2="222.41" stroke="#000" stroke-width="1" />
<line x1="371.30" y1="222.41" x2="365.60" y2="222.41" stroke="#000" stroke-width="1" />
<line x1="45.50" y1="220.05" x2="51.20" y2="220.05" stroke="#000" stroke-width="1" />
<line x1="371.30" y1="220.05" x2="365.60" y2="220.05" stroke="#000" stroke-width="1" />
<line x1="45.50" y1="218.01" x2="51.20" y2="218.01" stroke="#000" stroke-width="1" />
<line x1="371.30" y1="218.01" x2="365.60" y2="218.01" stroke="#000" stroke-width="1" />
<line x1="45.50" y1="216.21" x2="51.20" y2="216.21" stroke="#000" stroke-width="1" />
<line x1="371.30" y1="216.21" x2="365.60" y2="216.21" stroke="#000" stroke-width="1" />
<line x1="45.50" y1="214.60" x2="57.00" y2="214.60" stroke="#000" stroke-width="1" />
<line x1="371.30" y1="214.60" x2="359.80" y2="214.60" stroke="#000" stroke-width="1" />
<line x1="45.50" y1="204.00" x2="51.20" y2="204.00" stroke="#000" stroke-width="1" />
<line x1="371.30" y1="204.00" x2="365.60" y2="204.00" stroke="#000" stroke-width="1" />
<line x1="45.50" y1="197.81" x2="51.20" y2="197.81" stroke="#000" stroke-width="1" />
<line x1="371.30" y1="197.81" x2="365.60" y2="197.81" stroke="#000" stroke-width="1" />
<line x1="45.50" y1="193.41" x2="51.20" y2="193.41" stroke="#000" stroke-width="1" />
<line x1="371.30" y1="193.41" x2="365.60" y2="193.41" stroke="#000" stroke-width="1" />
<line x1="45.50" y1="190.00" x2="51.20" y2="190.00" stroke="#000" stroke-width="1" />
<line x1="371.30" y1="190.00" x2="365.60" y2="190.00" stroke="#000" stroke-width="1" />
<line x1="45.50" y1="187.21" x2="51.20" y2="187.21" stroke="#000" stroke-width="1" />
<line x1="371.30" y1="187.21" x2="365.60" y2="187.21" stroke="#000" stroke-width="1" />
<line x1="45.50" y1="184.85" x2="51.20" y2="184.85" stroke="#000" stroke-width="1" />
<line x1="371.30" y1="184.85" x2="365.60" y2="184.85" stroke="#000" stroke-width="1" />
<line x1="45.50" y1="182.81" x2="51.20" y2="182.81" stroke="#000" stroke-width="1" />
<line x1="371.30" y1="182.81" x2="365.60" y2="182.81" stroke="#000" stroke-width="1" />
<line x1="45.50" y1="181.01" x2="51.20" y2="181.01" stroke="#000" stroke-width="1" />
<line x1="371.30" y1="181.01" x2="365.60" y2="181.01" stroke="#000" stroke-width="1" />
<line x1="45.50" y1="179.40" x2="57.00" y2="179.40" stroke="#000" stroke-width="1" />
<line x1="371.30" y1="179.40" x2="359.80" y2="179.40" stroke="#000" stroke-width="1" />
<line x1="45.50" y1="168.80" x2="51.20" y2="168.80" stroke="#000" stroke-width="1" />
<line x1="371.30" y1="168.80" x2="365.60" y2="168.80" stroke="#000" stroke-width="1" />
<line x1="45.50" y1="162.61" x2="51.20" y2="162.61" stroke="#000" stroke-width="1" />
<line x1="371.30" y1="162.61" x2="365.60" y2="162.61" stroke="#000" stroke-width="1" />
<line x1="45.50" y1="158.21" x2="51.20" y2="158.21" stroke="#000" stroke-width="1" />
<line x1="371.30" y1="158.21" x2="365.60" y2="158.21" stroke="#000" stroke-width="1" />
<line x1="45.50" y1="154.80" x2="51.20" y2="154.80" stroke="#000" stroke-width="1" />
<line x1="371.30" y1="154.80" x2="365.60" y2="154.80" stroke="#000" stroke-width="1" />
<line x1="45.50" y1="152.01" x2="51.20" y2="152.01" stroke="#000" stroke-width="1" />
<line x1="371.30" y1="152.01" x2="365.60" y2="152.01" stroke="#000" stroke-width="1" />
<line x1="45.50" y1="149.65" x2="51.20" y2="149.65" stroke="#000" stroke-width="1" />
<line x1="371.30" y1="149.65" x2="365.60" y2="149.65" stroke="#000" stroke-width="1" />
<line x1="45.50" y1="147.61" x2="51.20" y2="147.61" stroke="#000" stroke-width="1" />
<line x1="371.30" y1="147.61" x2="365.60" y2="147.61" stroke="#000" stroke-width="1" />
<line x1="45.50" y1="145.81" x2="51.20" y2="145.81" stroke="#000" stroke-width="1" />
<line x1="371.30" y1="145.81" x2="365.60" y2="145.81" stroke="#000" stroke-width="1" />
<line x1="45.50" y1="144.20" x2="57.00" y2="144.20" stroke="#000" stroke-width="1" />
<line x1="371.30" y1="144.20" x2="359.80" y2="144.20" stroke="#000" stroke-width="1" />
<line x1="45.50" y1="133.60" x2="51.20" y2="133.60" stroke="#000" stroke-width="1" />
<line x1="371.30" y1="133.60" x2="365.60" y2="133.60" stroke="#000" stroke-width="1" />
<line x1="45.50" y1="127.41" x2="51.20" y2="127.41" stroke="#000" stroke-width="1" />
<line x1="371.30" y1="127.41" x2="365.60" y2="127.41" stroke="#000" stroke-width="1" />
<line x1="45.50" y1="123.01" x2="51.20" y2="123.01" stroke="#000" stroke-width="1" />
<line x1="371.30" y1="123.01" x2="365.60" y2="123.01" stroke="#000" stroke-width="1" />
<line x1="45.50" y1="119.60" x2="51.20" y2="119.60" stroke="#000" stroke-width="1" />
<line x1="371.30" y1="119.60" x2="365.60" y2="119.60" stroke="#000" stroke-width="1" />
<line x1="45.50" y1="116.81" x2="51.20" y2="116.81" stroke="#000" stroke-width="1" />
<line x1="371.30" y1="116.81" x2="365.60" y2="116.81" stroke="#000" stroke-width="1" />
<line x1="45.50" y1="114.45" x2="51.20" y2="114.45" stroke="#000" stroke-width="1" />
<line x1="371.30" y1="114.45" x2="365.60" y2="114.45" stroke="#000" stroke-width="1" />
<line x1="45.50" y1="112.41" x2="51.20" y2="112.41" stroke="#000" stroke-width="1" />
<line x1="371.30" y1="112.41" x2="365.60" y2="112.41" stroke="#000" stroke-width="1" />
<line x1="45.50" y1="110.61" x2="51.20" y2="110.61" stroke="#000" stroke-width="1" />
<line x1="371.30" y1="110.61" x2="365.60" y2="110.61" stroke="#000" stroke-width="1" />
<line x1="45.50" y1="109.00" x2="57.00" y2="109.00" stroke="#000" stroke-width="1" />
<line x1="371.30" y1="109.00" x2="359.80" y2="109.00" stroke="#000" stroke-width="1" />
<line x1="45.50" y1="98.40" x2="51.20" y2="98.40" stroke="#000" stroke-width="1" />
<line x1="371.30" y1="98.40" x2="365.60" y2="98.40" stroke="#000" stroke-width="1" />
<line x1="45.50" y1="92.21" x2="51.20" y2="92.21" stroke="#000" stroke-width="1" />
<line x1="371.30" y1="92.21" x2="365.60" y2="92.21" stroke="#000" stroke-width="1" />
<line x1="45.50" y1="87.81" x2="51.20" y2="87.81" stroke="#000" stroke-width="1" />
<line x1="371.30" y1="87.81" x2="365.60" y2="87.81" stroke="#000" stroke-width="1" />
<line x1="45.50" y1="84.40" x2="51.20" y2="84.40" stroke="#000" stroke-width="1" />
<line x1="371.30" y1="84.40" x2="365.60" y2="84.40" stroke="#000" stroke-width="1" />
<line x1="45.50" y1="81.61" x2="51.20" y2="81.61" stroke="#000" stroke-width="1" />
<line x1="371.30" y1="81.61" x2="365.60" y2="81.61" stroke="#000" stroke-width="1" />
<line x1="45.50" y1="79.25" x2="51.20" y2="79.25" stroke="#000" stroke-width="1" />
<line x1="371.30" y1="79.25" x2="365.60" y2="79.25" stroke="#000" stroke-width="1" />
<line x1="45.50" y1="77.21" x2="51.20" y2="77.21" stroke="#000" stroke-width="1" />
<line x1="371.30" y1="77.21" x2="365.60" y2="77.21" stroke="#000" stroke-width="1" />
<line x1="45.50" y1="75.41" x2="51.20" y2="75.41" stroke="#000" stroke-width="1" />
<line x1="371.30" y1="75.41" x2="365.60" y2="75.41" stroke="#000" stroke-width="1" />
<line x1="45.50" y1="73.80" x2="57.00" y2="73.80" stroke="#000" stroke-width="1" />
<line x1="371.30" y1="73.80" x2="359.80" y2="73.80" stroke="#000" stroke-width="1" />
<line x1="45.50" y1="63.20" x2="51.20" y2="63.20" stroke="#000" stroke-width="1" />
<line x1="371.30" y1="63.20" x2="365.60" y2="63.20" stroke="#000" stroke-width="1" />
<line x1="45.50" y1="57.01" x2="51.20" y2="57.01" stroke="#000" stroke-width="1" />
<line x1="371.30" y1="57.01" x2="365.60" y2="57.01" stroke="#000" stroke-width="1" />
<line x1="45.50" y1="52.61" x2="51.20" y2="52.61" stroke="#000" stroke-width="1" />
<line x1="371.30" y1="52.61" x2="365.60" y2="52.61" stroke="#000" stroke-width="1" />
<line x1="45.50" y1="49.20" x2="51.20" y2="49.20" stroke="#000" stroke-width="1" />
<line x1="371.30" y1="49.20" x2="365.60" y2="49.20" stroke="#000" stroke-width="1" />
<line x1="45.50" y1="46.41" x2="51.20" y2="46.41" stroke="#000" stroke-width="1" />
<line x1="371.30" y1="46.41" x2="365.60" y2="46.41" stroke="#000" stroke-width="1" />
<line x1="45.50" y1="44.05" x2="51.20" y2="44.05" stroke="#000" stroke-width="1" />
<line x1="371.30" y1="44.05" x2="365.60" y2="44.05" stroke="#000" stroke-width="1" />
<line x1="45.50" y1="42.01" x2="51.20" y2="42.01" stroke="#000" stroke-width="1" />
<line x1="371.30" y1="42.01" x2="365.60" y2="42.01" stroke="#000" stroke-width="1" />
<line x1="45.50" y1="40.21" x2="51.20" y2="40.21" stroke="#000" stroke-width="1" />
<line x1="371.30" y1="40.21" x2="365.60" y2="40.21" stroke="#000" stroke-width="1" />
<line x1="45.50" y1="38.60" x2="57.00" y2="38.60" stroke="#000" stroke-width="1" />
<line x1="371.30" y1="38.60" x2="359.80" y2="38.60" stroke="#000" stroke-width="1" />
<line x1="45.50" y1="28.00" x2="51.20" y2="28.00" stroke="#000" stroke-width="1" />
<line x1="371.30" y1="28.00" x2="365.60" y2="28.00" stroke="#000" stroke-width="1" />
<line x1="45.50" y1="21.81" x2="51.20" y2="21.81" stroke="#000" stroke-width="1" />
<line x1="371.30" y1="21.81" x2="365.60" y2="21.81" stroke="#000" stroke-width="1" />
<line x1="45.50" y1="458.21" x2="52.50" y2="458.21" stroke="#000" stroke-width="1" />
<line x1="371.30" y1="458.21" x2="364.30" y2="458.21" stroke="#000" stroke-width="1" />
<line x1="45.50" y1="442.21" x2="50.30" y2="442.21" stroke="#000" stroke-width="1" />
<line x1="371.30" y1="442.21" x2="366.50" y2="442.21" stroke="#000" stroke-width="1" />
<line x1="45.50" y1="428.69" x2="50.30" y2="428.69" stroke="#000" stroke-width="1" />
<line x1="371.30" y1="428.69" x2="366.50" y2="428.69" stroke="#000" stroke-width="1" />
<line x1="45.50" y1="416.98" x2="50.30" y2="416.98" stroke="#000" stroke-width="1" />
<line x1="371.30" y1="416.98" x2="366.50" y2="416.98" stroke="#000" stroke-width="1" />
<line x1="45.50" y1="406.64" x2="50.30" y2="406.64" stroke="#000" stroke-width="1" />
<line x1="371.30" y1="406.64" x2="366.50" y2="406.64" stroke="#000" stroke-width="1" />
<line x1="45.50" y1="397.40" x2="52.50" y2="397.40" stroke="#000" stroke-width="1" />
<line x1="371.30" y1="397.40" x2="364.30" y2="397.40" stroke="#000" stroke-width="1" />
<line x1="45.50" y1="389.04" x2="50.30" y2="389.04" stroke="#000" stroke-width="1" />
<line x1="371.30" y1="389.04" x2="366.50" y2="389.04" stroke="#000" stroke-width="1" />
<line x1="45.50" y1="381.41" x2="50.30" y2="381.41" stroke="#000" stroke-width="1" />
<line x1="371.30" y1="381.41" x2="366.50" y2="381.41" stroke="#000" stroke-width="1" />
<line x1="45.50" y1="374.38" x2="50.30" y2="374.38" stroke="#000" stroke-width="1" />
<line x1="371.30" y1="374.38" x2="366.50" y2="374.38" stroke="#000" stroke-width="1" />
<line x1="45.50" y1="367.88" x2="50.30" y2="367.88" stroke="#000" stroke-width="1" />
<line x1="371.30" y1="367.88" x2="366.50" y2="367.88" stroke="#000" stroke-width="1" />
<line x1="45.50" y1="361.83" x2="50.30" y2="361.83" stroke="#000" stroke-width="1" />
<line x1="371.30" y1="361.83" x2="366.50" y2="361.83" stroke="#000" stroke-width="1" />
<line x1="45.50" y1="356.17" x2="50.30" y2="356.17" stroke="#000" stroke-width="1" />
<line x1="371.30" y1="356.17" x2="366.50" y2="356.17" stroke="#000" stroke-width="1" />
<line x1="45.50" y1="350.85" x2="50.30" y2="350.85" stroke="#000" stroke-width="1" />
<line x1="371.30" y1="350.85" x2="366.50" y2="350.85" stroke="#000" stroke-width="1" />
<line x1="45.50" y1="345.83" x2="50.30" y2="345.83" stroke="#000" stroke-width="1" />
<line x1="371.30" y1="345.83" x2="366.50" y2="345.83" stroke="#000" stroke-width="1" />
<line x1="45.50" y1="341.09" x2="50.30" y2="341.09" stroke="#000" stroke-width="1" />
<line x1="371.30" y1="341.09" x2="366.50" y2="341.09" stroke="#000" stroke-width="1" />
<line x1="45.50" y1="336.59" x2="52.50" y2="336.59" stroke="#000" stroke-width="1" />
<line x1="371.30" y1="336.59" x2="364.30" y2="336.59" stroke="#000" stroke-width="1" />
<line x1="45.50" y1="332.31" x2="50.30" y2="332.31" stroke="#000" stroke-width="1" />
<line x1="371.30" y1="332.31" x2="366.50" y2="332.31" stroke="#000" stroke-width="1" />
<line x1="45.50" y1="328.23" x2="50.30" y2="328.23" stroke="#000" stroke-width="1" />
<line x1="371.30" y1="328.23" x2="366.50" y2="328.23" stroke="#000" stroke-width="1" />
<line x1="45.50" y1="324.33" x2="50.30" y2="324.33" stroke="#000" stroke-width="1" />
<line x1="371.30" y1="324.33" x2="366.50" y2="324.33" stroke="#000" stroke-width="1" />
<line x1="45.50" y1="320.60" x2="50.30" y2="320.60" stroke="#000" stroke-width="1" />
<line x1="371.30" y1="320.60" x2="366.50" y2="320.60" stroke="#000" stroke-width="1" />
<rect x="45.5" y="17.5" width="325.8" height="299.8" fill="none" stroke="#000" stroke-width="1.1"/>
<rect x="45.5" y="317.3" width="325.8" height="160.5" fill="none" stroke="#000" stroke-width="1.1"/>
<line x1="45.0" y1="478.1" x2="371.8" y2="478.1" stroke="#000" stroke-width="1.3"/>
<text x="51.50" y="13.70" font-size="12" text-anchor="start" fill="#000" >13000 GeV pp</text>
<text x="365.50" y="13.70" font-size="12" text-anchor="end" fill="#000" >Z+Jet</text>
<text x="94.30" y="42.00" font-size="12" text-anchor="start" fill="#000" >Away region, 60 &lt; p</text>
<text x="199.00" y="36.60" font-size="7.5" text-anchor="start" fill="#000" >Z</text>
<text x="198.80" y="48.70" font-size="7.5" text-anchor="start" fill="#000" >T</text>
<text x="206.90" y="42.00" font-size="12" text-anchor="start" fill="#000" >&lt; 80 [GeV], low thrust</text>
<text x="40.30" y="42.70" font-size="10.8" text-anchor="end" fill="#000" >10</text>
<text x="41.30" y="77.90" font-size="10.8" text-anchor="end" fill="#000" >1</text>
<text x="39.9" y="114.50" font-size="10.8" text-anchor="end">10<tspan font-size="7.8" dy="-5">&#8722;1</tspan></text>
<text x="39.9" y="149.70" font-size="10.8" text-anchor="end">10<tspan font-size="7.8" dy="-5">&#8722;2</tspan></text>
<text x="39.9" y="184.90" font-size="10.8" text-anchor="end">10<tspan font-size="7.8" dy="-5">&#8722;3</tspan></text>
<text x="39.9" y="220.10" font-size="10.8" text-anchor="end">10<tspan font-size="7.8" dy="-5">&#8722;4</tspan></text>
<text x="39.9" y="255.30" font-size="10.8" text-anchor="end">10<tspan font-size="7.8" dy="-5">&#8722;5</tspan></text>
<text x="39.9" y="290.50" font-size="10.8" text-anchor="end">10<tspan font-size="7.8" dy="-5">&#8722;6</tspan></text>
<text x="38.40" y="340.59" font-size="11.4" text-anchor="end" fill="#000" >2</text>
<text x="373.60" y="340.59" font-size="11.4" text-anchor="start" fill="#000" >2</text>
<text x="38.40" y="401.40" font-size="11.4" text-anchor="end" fill="#000" >1</text>
<text x="373.60" y="401.40" font-size="11.4" text-anchor="start" fill="#000" >1</text>
<text x="38.40" y="462.21" font-size="11.4" text-anchor="end" fill="#000" >0.5</text>
<text x="373.60" y="462.21" font-size="11.4" text-anchor="start" fill="#000" >0.5</text>
<text x="55.40" y="488.60" font-size="11" text-anchor="middle" fill="#000" >0</text>
<text x="126.70" y="488.60" font-size="11" text-anchor="middle" fill="#000" >1</text>
<text x="198.00" y="488.60" font-size="11" text-anchor="middle" fill="#000" >2</text>
<text x="269.30" y="488.60" font-size="11" text-anchor="middle" fill="#000" >3</text>
<text x="340.60" y="488.60" font-size="11" text-anchor="middle" fill="#000" >4</text>
<text x="318.50" y="502.40" font-size="12" text-anchor="start" fill="#000" >N</text>
<text x="325.60" y="506.80" font-size="8.2" text-anchor="start" fill="#000" >ch</text>
<text x="335.00" y="502.40" font-size="12" text-anchor="start" fill="#000" >/d&#951; d&#981;</text>
<text transform="rotate(-90)" x="-133.00" y="14.90" font-size="12" >1/N</text>
<text transform="rotate(-90)" x="-114.20" y="18.20" font-size="8" >ev</text>
<text transform="rotate(-90)" x="-103.60" y="14.90" font-size="12" >dN</text>
<text transform="rotate(-90)" x="-87.20" y="18.20" font-size="8" >ev</text>
<text transform="rotate(-90)" x="-80.00" y="14.90" font-size="12" >/dN</text>
<text transform="rotate(-90)" x="-61.00" y="18.20" font-size="8" >ch</text>
<text transform="rotate(-90)" x="-53.60" y="14.90" font-size="11.5" >/d&#951; d&#981;</text>
<text transform="translate(17.8,424.5) rotate(-90)" font-size="8.55">Ratio to ATLAS</text>
<text transform="translate(381,126) rotate(-90)" font-size="9.35" fill="#777">Rivet 4.1.0, &#8805; 400k events</text>
<text transform="translate(381,313.6) rotate(-90)" font-size="9.35" fill="#777">mcplots.cern.ch [arXiv:2401.10621]</text>
<text x="163" y="302.5" font-size="7.9" fill="#999">(ATLAS_2019_I1736531)</text>
</svg></body></html>
